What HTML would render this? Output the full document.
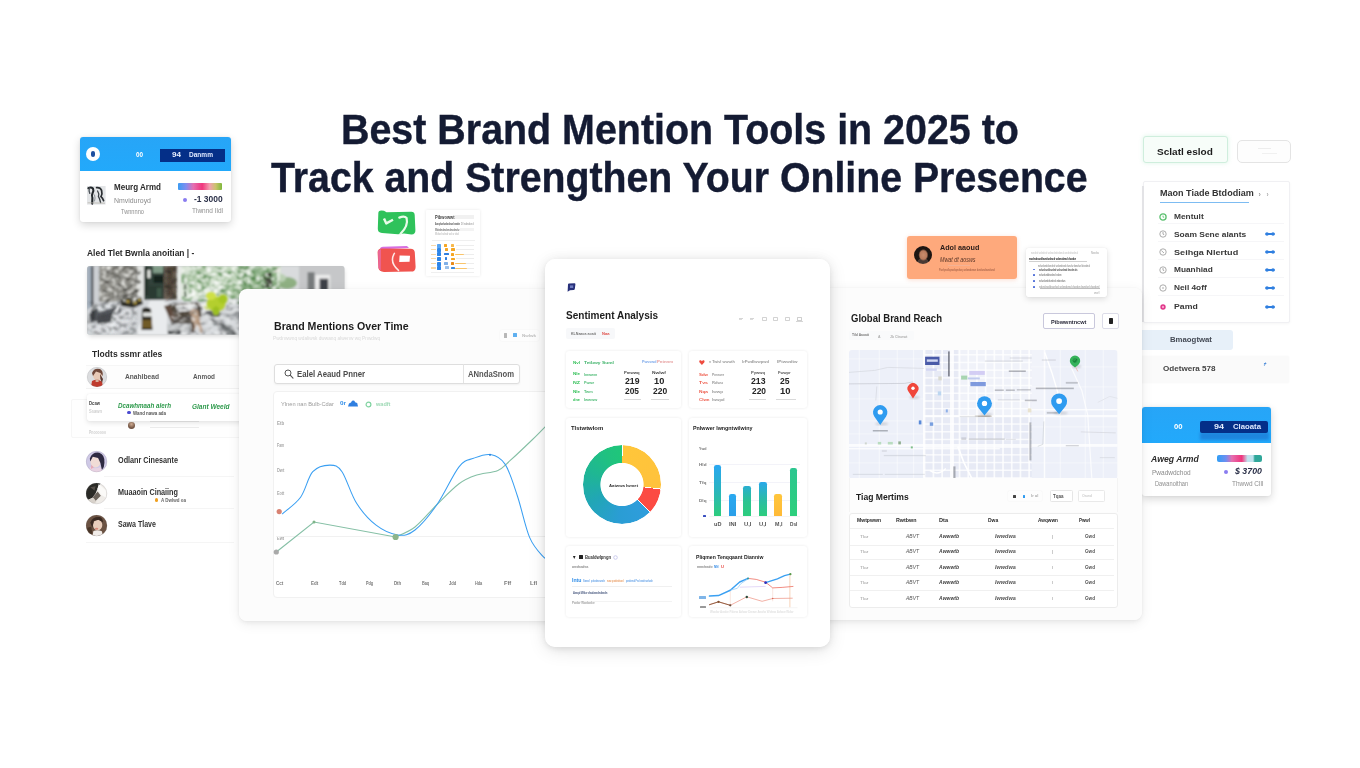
<!DOCTYPE html>
<html lang="en">
<head>
<meta charset="utf-8">
<title>Best Brand Mention Tools in 2025</title>
<style>
*{box-sizing:border-box;margin:0;padding:0}
html,body{width:1360px;height:768px;overflow:hidden;background:#fff}
body{font-family:"Liberation Sans",sans-serif;color:#1a1a1a;position:relative}
.abs{position:absolute}
.t{position:absolute;white-space:nowrap;line-height:1;transform-origin:0 0}
#stage{position:absolute;left:0;top:0;width:1360px;height:768px;overflow:hidden;background:#fff}
.title{position:absolute;white-space:nowrap;font-weight:700;color:#141b33;font-size:42.6px;line-height:1;transform-origin:0 0;-webkit-text-stroke:.4px #141b33}
.panel{position:absolute;background:#fff;border-radius:8px;overflow:hidden}
.pshadow{position:absolute;border-radius:8px}
svg{position:absolute;overflow:visible}
</style>
</head>
<body>
<div id="stage">
<div class="title" style="left:340.6px;top:108.4px;transform:scaleX(.925)">Best Brand Mention Tools in 2025 to</div>
<div class="title" style="left:270.9px;top:155.6px;transform:scaleX(.9215)">Track and Strengthen Your Online Presence</div>
<div class="abs" style="left:79.5px;top:137.0px;width:151.5px;height:85.0px;background:#fff;border-radius:3px;box-shadow:0 3px 8px rgba(0,0,0,.16),0 0 2px rgba(0,0,0,.08);"></div>
<div class="abs" style="left:79.5px;top:137.0px;width:151.5px;height:33.5px;background:linear-gradient(180deg,#27a5f7,#22a9fb);border-radius:3px 3px 0 0;"></div>
<div class="abs" style="left:86.2px;top:146.9px;width:14.0px;height:14.0px;background:#fff;border-radius:7px;"></div>
<div class="abs" style="left:91.3px;top:150.5px;width:3.8px;height:6.8px;background:#1d4fa0;border-radius:2px;"></div>
<div class="t" style="left:135.5px;top:150.0px;font-size:9px;color:#fff;font-weight:700;transform:scaleX(0.637);">oo</div>
<div class="abs" style="left:160.0px;top:149.4px;width:64.5px;height:12.6px;background:#042f88;"></div>
<div class="t" style="left:171.5px;top:150.5px;font-size:8px;color:#e8f0ff;font-weight:700;transform:scaleX(1.011);">94</div>
<div class="t" style="left:188.5px;top:150.8px;font-size:7.5px;color:#dfe9ff;font-weight:700;transform:scaleX(0.873);">Danmm</div>
<svg style="left:86.8px;top:185.8px" width="18.6" height="18.6" viewBox="0 0 18.6 18.6"><defs><filter id="thb"><feGaussianBlur stdDeviation="0.45"/></filter></defs><rect width="18.6" height="18.6" fill="#e3e5e7"/><g filter="url(#thb)" fill="none" stroke-linecap="round"><path d="M1.4 2.2 Q4 .6 6 2.6 Q7 5 5.6 7 Q4.4 9.6 5.4 12 L5.2 17.6" stroke="#23272b" stroke-width="2.1"/><path d="M2.4 2 Q1.6 5 2.8 7.4" stroke="#4a5056" stroke-width="1.3"/><path d="M9.6 1.6 Q13.4 1.2 14.6 4.4 Q15.6 8 14 10.6 Q15.6 12 16.6 14.6" stroke="#2b2f33" stroke-width="1.7"/><path d="M10.6 5 Q12.4 7.6 11.4 10.4 Q13 13 13.6 16.6" stroke="#3a3f44" stroke-width="1.3"/><path d="M7.6 9 Q8.6 12 7.6 15" stroke="#8a8f94" stroke-width="1"/><path d="M1 16.8 L17.6 17.2" stroke="#b9b6ae" stroke-width=".8"/></g></svg>
<div class="t" style="left:114.0px;top:182.9px;font-size:8.6px;color:#2a2a2a;font-weight:700;transform:scaleX(0.934);">Meurg Armd</div>
<div class="t" style="left:114.0px;top:197.0px;font-size:7.4px;color:#8a8a8a;transform:scaleX(0.937);">Nmviduroyd</div>
<div class="t" style="left:121.0px;top:208.6px;font-size:6.4px;color:#8f8f8f;transform:scaleX(0.885);">Twnnnno</div>
<div class="abs" style="left:178.4px;top:183.0px;width:43.2px;height:6.7px;background:linear-gradient(90deg,#3b9cf2 0%,#7f8ef0 18%,#e56fb0 35%,#f0357c 55%,#f2a0b0 72%,#c9c36a 86%,#7fb83c 100%);border-radius:1px;"></div>
<div class="abs" style="left:183.0px;top:198.4px;width:4.0px;height:4.0px;background:#8a7cf0;border-radius:2px;"></div>
<div class="t" style="left:194.0px;top:195.2px;font-size:9.2px;color:#2b3048;font-weight:700;transform:scaleX(0.920);">-1 3000</div>
<div class="t" style="left:191.7px;top:208.4px;font-size:6.4px;color:#8f8f8f;transform:scaleX(1.013);">Tlwnnd Ildl</div>
<div class="t" style="left:87.0px;top:249.0px;font-size:8.6px;color:#2a2a2a;font-weight:700;transform:scaleX(0.982);">Aled Tlet Bwnla anoitian | -</div>
<div class="abs" style="left:88px;top:267px;width:256px;height:67px;border-radius:3px;box-shadow:0 2px 5px rgba(0,0,0,.18)"></div>
<svg style="left:87.4px;top:265.8px" width="257.6" height="68.7" viewBox="0 0 257.6 68.7">
<defs>
<clipPath id="phc"><rect x="0" y="0" width="257.6" height="68.7" rx="3"/></clipPath>
<filter id="phb" x="-5%" y="-5%" width="110%" height="110%"><feGaussianBlur stdDeviation="0.9"/></filter>
<filter id="phb2" x="-5%" y="-5%" width="110%" height="110%"><feGaussianBlur stdDeviation="1.6"/></filter>
<filter id="phn1" x="0" y="0" width="100%" height="100%">
<feTurbulence type="fractalNoise" baseFrequency="0.16 0.22" numOctaves="3" seed="11" result="n"/>
<feColorMatrix in="n" type="matrix" values="0 0 0 0 0  0 0 0 0 0  0 0 0 0 0  3.2 0 0 0 -1.45" result="a"/>
<feComposite in="SourceGraphic" in2="a" operator="in"/>
</filter>
<filter id="phn2" x="0" y="0" width="100%" height="100%">
<feTurbulence type="fractalNoise" baseFrequency="0.2 0.26" numOctaves="3" seed="29" result="n"/>
<feColorMatrix in="n" type="matrix" values="0 0 0 0 0  0 0 0 0 0  0 0 0 0 0  0 3.4 0 0 -1.62" result="a"/>
<feComposite in="SourceGraphic" in2="a" operator="in"/>
</filter>
<filter id="phn3" x="0" y="0" width="100%" height="100%">
<feTurbulence type="fractalNoise" baseFrequency="0.2 0.26" numOctaves="3" seed="53" result="n"/>
<feColorMatrix in="n" type="matrix" values="0 0 0 0 0  0 0 0 0 0  0 0 0 0 0  0 0 3.6 0 -1.6" result="a"/>
<feComposite in="SourceGraphic" in2="a" operator="in"/>
</filter>
</defs>
<g clip-path="url(#phc)">
<rect width="257.6" height="68.7" fill="#c2c5c6"/>
<g filter="url(#phb)">
<!-- left strip -->
<rect x="0" y="0" width="5" height="69" fill="#a3afbc"/>
<rect x="4.4" y="0" width="2.2" height="50" fill="#2c2e30"/>
<rect x="6.4" y="0" width="6.4" height="44" fill="#cdd0d4"/>
<!-- stone wall -->
<rect x="12.4" y="0" width="41" height="36" fill="#8a8983"/>
<!-- white pillar -->
<rect x="50.5" y="0" width="6.5" height="35" fill="#e2e4e2"/>
<!-- doorway -->
<rect x="57" y="0" width="21" height="34" fill="#33423a"/>
<rect x="66" y="0" width="10" height="7" fill="#7f9a86"/>
<rect x="66.5" y="9.6" width="10" height="7.4" fill="#18221e"/>
<rect x="58" y="0" width="3" height="30" fill="#26302a"/>
<rect x="60.4" y="4" width="3" height="8" fill="#e9ebe6"/>
<rect x="62" y="20" width="12" height="12" fill="#2b3a30"/>
<rect x="70" y="22" width="4" height="9" fill="#3f5a48"/>
<!-- column -->
<rect x="77" y="0" width="13" height="36" fill="#6b6054"/>
<rect x="80" y="0" width="6" height="30" fill="#54493e"/>
<rect x="90" y="0" width="5" height="34" fill="#e7eae7"/>
<!-- foliage -->
<rect x="94.7" y="0" width="100" height="38" fill="#d6e2d2"/>
<ellipse cx="112" cy="14" rx="12" ry="12" fill="#a9c4a2"/>
<ellipse cx="140" cy="9" rx="18" ry="8" fill="#bcd2b6"/>
<ellipse cx="150" cy="24" rx="16" ry="9" fill="#9dbd95"/>
<ellipse cx="176" cy="16" rx="18" ry="15" fill="#8fb487"/>
<ellipse cx="122" cy="28" rx="10" ry="6" fill="#e8eee6"/>
<rect x="97" y="18" width="2.4" height="14" fill="#4f5f4c"/>
<!-- trunk / dark right of foliage -->
<rect x="194" y="0" width="19" height="40" fill="#d9dbdd"/>
<rect x="212" y="0" width="46" height="69" fill="#c6c7c9"/>
<ellipse cx="200" cy="17" rx="10" ry="6" fill="#8fb083"/>
<ellipse cx="194" cy="12" rx="5" ry="4" fill="#b9cfb2"/>
<rect x="186.5" y="2" width="6" height="4" fill="#e3d9d6"/>
<path d="M176.5 8 L184.8 5.4 L185.6 22 L175.6 22 Z" fill="#2c2a22"/>
<rect x="220.6" y="6.2" width="7" height="20" fill="#777a7c"/>
<rect x="228.4" y="9" width="14.8" height="16" fill="#ededed"/>
<rect x="232.6" y="12.7" width="8.7" height="12" fill="#3c4046"/>
<!-- floor -->
<path d="M0 69 L0 44 L12 36 L60 34 L180 32 L258 40 L258 69 Z" fill="#d4d7da"/>
<path d="M48 69 L63 34.5 L80 34.5 L80 69 Z" fill="#e9ebed"/>
<!-- left loungers -->
<path d="M2 48 L14 38 L32 36 L34 46 L20 58 L4 60 Z" fill="#565a5e"/>
<path d="M9 40 L30 35.6 L31 40 L12 46 Z" fill="#dfe2e5"/>
<path d="M1 58 L26 50 L44 40 L50 42 L34 69 L1 69 Z" fill="#dfe1e4"/>
<path d="M24 52 L31 38 L33 38 L29 54 L25 66 L22 66 Z" fill="#eef0f2"/>
<path d="M10 50 L26 46 L24 56 L10 58 Z" fill="#484b4f"/>
<rect x="4.4" y="44" width="3.4" height="10" fill="#34363a"/>
<!-- dark chairs cluster -->
<path d="M32 31 L40 29.5 L54 31 L56 38 L46 42 L34 40 Z" fill="#2b2924"/>
<circle cx="41" cy="35.5" r="1.6" fill="#c4a335"/><circle cx="48" cy="37" r="1.8" fill="#b89a2c"/><circle cx="52.5" cy="34" r="1.2" fill="#d6bc4a"/>
<!-- statue figure -->
<path d="M55 43 Q59 40 64 43 L65.5 64 L54.5 64 Z" fill="#2a251d"/>
<rect x="56" y="46.5" width="9" height="4" fill="#e4e6e4"/>
<rect x="55" y="54" width="10" height="8" fill="#6f5a26"/>
<rect x="58.4" y="42" width="4" height="3" fill="#111"/>
<!-- right table/bench -->
<path d="M77 40 L84 38.5 L90 56 L86 60 Z" fill="#5d4a3c"/>
<path d="M82 38 L112 36 L118 50 L90 54 Z" fill="#4a3f36"/>
<path d="M88 39 L108 37.6 L110 43 L92 46 Z" fill="#e6e7e7"/>
<rect x="86" y="52" width="26" height="7" fill="#5a5550"/>
<rect x="80" y="58" width="26" height="9" fill="#c3c6c8"/>
<rect x="81" y="65" width="13" height="3" fill="#2b2d2e"/>
<!-- tan figure -->
<path d="M103 45 Q107 40.5 111 44 L114 58 L116 66.5 L113 67 L110 58 L106.6 67 L104 67 L105 56 Z" fill="#b89a80"/>
<rect x="104.6" y="56" width="2.6" height="11" fill="#4b3a2e"/>
<!-- right sunbeds -->
<path d="M114 44 L150 36 L160 40 L206 46 L206 69 L118 69 Z" fill="#d8dbde"/>
<path d="M118 46 L128 43 L134 50 L124 52 Z" fill="#5c5f62"/>
<path d="M120 50 L146 62 L150 69 L140 69 Z" fill="#6c6f72"/>
<path d="M134 50 L156 44 L180 52 L192 64 L186 66 L160 52 Z" fill="#9fa3a6"/>
<path d="M150 52 L170 60 L174 69 L166 69 Z" fill="#55585b"/>
<path d="M112 39 L124 36 L130 40 L118 44 Z" fill="#f0f1f1"/>
</g>
<!-- textures: wall -->
<g filter="url(#phb)">
<rect x="12.4" y="0" width="41" height="36" fill="#45443f" filter="url(#phn1)"/>
<rect x="12.4" y="0" width="41" height="36" fill="#eeeeea" filter="url(#phn2)"/>
<rect x="77" y="0" width="13" height="36" fill="#2f2a24" filter="url(#phn2)"/>
<!-- foliage -->
<rect x="94.7" y="0" width="98" height="38" fill="#5d8f56" filter="url(#phn1)"/>
<rect x="94.7" y="0" width="98" height="38" fill="#fbfcfa" filter="url(#phn3)"/>
<rect x="150" y="0" width="40" height="38" fill="#4f8349" filter="url(#phn2)" opacity=".8"/>
<!-- floor furniture -->
<rect x="0" y="36" width="50" height="33" fill="#3f4245" filter="url(#phn3)" opacity=".55"/>
<rect x="84" y="36" width="122" height="33" fill="#47494c" filter="url(#phn1)" opacity=".5"/>
<rect x="84" y="36" width="122" height="33" fill="#f4f5f6" filter="url(#phn2)" opacity=".7"/>
</g>
<g filter="url(#phb)">
<!-- plant -->
<ellipse cx="129" cy="38" rx="9.5" ry="7.5" fill="#b4cf2e"/>
<ellipse cx="124" cy="30" rx="5" ry="4" fill="#cfe045"/>
<ellipse cx="136" cy="33" rx="4.6" ry="4.6" fill="#a6c722"/>
<ellipse cx="129" cy="45" rx="3.4" ry="4.6" fill="#9cc020"/>
<path d="M116 40 L124 42 L120 44 Z" fill="#c9d86a"/>
</g>
</g>
</svg>
<div class="t" style="left:92.0px;top:350.4px;font-size:9px;color:#2a2a2a;font-weight:700;transform:scaleX(0.950);">Tlodts ssmr atles</div>
<div class="abs" style="left:86.0px;top:365.0px;width:153.5px;height:24.0px;background:#fdfdfd;border-top:1px solid #f6f6f6;border-bottom:1px solid #f2f2f2;"></div>
<svg style="left:86.5px;top:366.6px" width="20.0" height="20.0" viewBox="-10 -10 20 20"><defs><clipPath id="av96_376"><circle cx="0" cy="0" r="10"/></clipPath><filter id="av96_376b"><feGaussianBlur stdDeviation="0.7"/></filter></defs><g clip-path="url(#av96_376)"><rect x="-10" y="-10" width="20" height="20" fill="#dcdddf"/><g filter="url(#av96_376b)"><ellipse cx="0.5" cy="-2" rx="4.6" ry="5.4" fill="#e8c9b6"/><path d="M-5 -4 Q-3 -9.5 3 -8 Q6.5 -6 5.6 -1 L3.4 -4 L-1 -5.4 L-4 -1 Z" fill="#70483a"/><path d="M-6 10 L-5 4 Q0 1.4 5 4.6 L6 10 Z" fill="#bf3a2e"/><rect x="-1.4" y="2" width="3" height="3" fill="#d9b09c"/><path d="M3 -3 L6 2 L5 6 L3.4 2 Z" fill="#5a3a30"/></g></g><circle cx="0" cy="0" r="9.7" fill="none" stroke="rgba(120,120,130,.25)" stroke-width=".6"/></svg>
<div class="t" style="left:125.0px;top:373.6px;font-size:6.6px;color:#5a5a5a;font-weight:700;transform:scaleX(1.008);">Anahlbead</div>
<div class="t" style="left:193.0px;top:373.6px;font-size:6.6px;color:#5a5a5a;font-weight:700;transform:scaleX(0.968);">Anmod</div>
<div class="abs" style="left:71.0px;top:398.8px;width:174.0px;height:38.8px;background:#fefefe;border-radius:2px;border:1px solid #f6f6f6;"></div>
<div class="t" style="left:89.0px;top:429.9px;font-size:5.5px;color:#cfcfcf;font-weight:700;transform:scaleX(0.625);">Pnoooooo</div>
<div class="abs" style="left:127.9px;top:422.0px;width:6.8px;height:6.8px;background:radial-gradient(circle at 50% 30%,#d8b49a 0,#7a5a48 60%,#5a4438 100%);border-radius:3.4px;"></div>
<div class="abs" style="left:150.0px;top:421.1px;width:49.0px;height:1.0px;background:#e9e9e9;"></div>
<div class="abs" style="left:150.0px;top:426.5px;width:49.0px;height:1.0px;background:#ebebeb;"></div>
<div class="abs" style="left:86.6px;top:394.4px;width:158.4px;height:26.6px;background:#fff;border-radius:2px;box-shadow:0 2px 5px rgba(0,0,0,.10),0 0 1px rgba(0,0,0,.10);"></div>
<div class="t" style="left:89.0px;top:401.1px;font-size:5.6px;color:#444;font-weight:700;transform:scaleX(0.752);">Dcaw</div>
<div class="t" style="left:89.0px;top:409.3px;font-size:5.2px;color:#cfcfcf;font-weight:700;transform:scaleX(0.789);">Ssawn</div>
<div class="t" style="left:118.0px;top:402.4px;font-size:7.2px;color:#2e9a4c;font-weight:700;font-style:italic;transform:scaleX(0.866);">Dcawhmaah alerh</div>
<div class="t" style="left:192.0px;top:402.9px;font-size:7.2px;color:#2e9a4c;font-weight:700;font-style:italic;transform:scaleX(0.904);">Glant Weeld</div>
<div class="abs" style="left:127.0px;top:410.6px;width:3.6px;height:3.6px;background:#4a4ad0;border-radius:1.8px;"></div>
<div class="t" style="left:133.0px;top:410.7px;font-size:5px;color:#555;font-weight:700;transform:scaleX(0.884);">Wand nawa ada</div>
<svg style="left:86.4px;top:450.6px" width="21.2" height="21.2" viewBox="-10 -10 20 20"><defs><clipPath id="av97_461"><circle cx="0" cy="0" r="10"/></clipPath><filter id="av97_461b"><feGaussianBlur stdDeviation="0.7"/></filter></defs><g clip-path="url(#av97_461)"><rect x="-10" y="-10" width="20" height="20" fill="#cfc9e6"/><g filter="url(#av97_461b)"><ellipse cx="-1" cy="0" rx="4.8" ry="5.6" fill="#f1dcd6"/><path d="M-6.4 -3 Q-4 -9.4 2.6 -8.4 Q8 -6.4 7.4 1 Q7.4 5.6 5 8 L3.6 1.4 L1.4 -3.4 L-3.6 -4.6 L-6 0 Z" fill="#2f2a42"/><path d="M-8 10 L-6 5 Q-1 7.4 3.4 5 L6 10 Z" fill="#e9d3e3"/><path d="M-5 3 L-2.6 5.6 L-5.4 7 Z" fill="#e9a9b6"/></g></g><circle cx="0" cy="0" r="9.7" fill="none" stroke="rgba(120,120,130,.25)" stroke-width=".6"/></svg>
<div class="t" style="left:118.0px;top:455.9px;font-size:8.6px;color:#333;font-weight:700;transform:scaleX(0.843);">Odlanr Cinesante</div>
<svg style="left:86.4px;top:482.7px" width="21.2" height="21.2" viewBox="-10 -10 20 20"><defs><clipPath id="av97_493"><circle cx="0" cy="0" r="10"/></clipPath><filter id="av97_493b"><feGaussianBlur stdDeviation="0.7"/></filter></defs><g clip-path="url(#av97_493)"><rect x="-10" y="-10" width="20" height="20" fill="#efece8"/><g filter="url(#av97_493b)"><path d="M-10 -10 L4 -10 L1 -5 L-1 0 L-4 4 L-10 7 Z" fill="#2b2927"/><path d="M-4 4 L1 -2 L4 2 L-1 7 Z" fill="#6a625a"/><path d="M2 -9 L9 -3 L9 4 L4 1 L1 -5 Z" fill="#fbfaf8"/><path d="M-9 6 L-3 4 L0 8 L-4 10 Z" fill="#d8d2cb"/><path d="M-6 -6 L-1 -7 L-2 -3 Z" fill="#55504a"/></g></g><circle cx="0" cy="0" r="9.7" fill="none" stroke="rgba(120,120,130,.25)" stroke-width=".6"/></svg>
<div class="t" style="left:118.0px;top:488.0px;font-size:8.6px;color:#333;font-weight:700;transform:scaleX(0.843);">Muaaoin Cinaiing</div>
<svg style="left:86.4px;top:514.9px" width="21.2" height="21.2" viewBox="-10 -10 20 20"><defs><clipPath id="av97_525"><circle cx="0" cy="0" r="10"/></clipPath><filter id="av97_525b"><feGaussianBlur stdDeviation="0.7"/></filter></defs><g clip-path="url(#av97_525)"><rect x="-10" y="-10" width="20" height="20" fill="#6b5242"/><g filter="url(#av97_525b)"><ellipse cx="1" cy="-0.6" rx="4.4" ry="5" fill="#e9cdbb"/><path d="M-6 -3 Q-3 -9 3 -8 Q6 -7 6 -3 L2 -5.6 L-2.6 -4.4 L-4 2 Z" fill="#3a2a22"/><path d="M-4 10 L-3 5 Q1 3.4 5 5.4 L6 10 Z" fill="#f1ece8"/><path d="M-9 2 L-5 1 L-4 8 L-8 8 Z" fill="#4a3528"/><ellipse cx="0" cy="3" rx="1.6" ry="1" fill="#d98a7a"/></g></g><circle cx="0" cy="0" r="9.7" fill="none" stroke="rgba(120,120,130,.25)" stroke-width=".6"/></svg>
<div class="t" style="left:118.0px;top:520.2px;font-size:8.6px;color:#333;font-weight:700;transform:scaleX(0.819);">Sawa Tlave</div>
<div class="abs" style="left:154.7px;top:498.4px;width:3.6px;height:3.6px;background:#f0a020;border-radius:1.8px;"></div>
<div class="t" style="left:161.0px;top:498.7px;font-size:4.6px;color:#666;font-weight:700;transform:scaleX(0.975);">A Dwlwd oa</div>
<div class="abs" style="left:104.0px;top:475.8px;width:130.0px;height:1.0px;background:#f5f5f5;"></div>
<div class="abs" style="left:104.0px;top:507.5px;width:130.0px;height:1.0px;background:#f5f5f5;"></div>
<div class="abs" style="left:86.0px;top:541.5px;width:148.0px;height:1.0px;background:#f5f5f5;"></div>
<div class="abs" style="left:1142.7px;top:136.3px;width:85.0px;height:27.1px;background:#f7fdf9;border-radius:3px;border:1px solid #cfeedd;box-shadow:0 0 4px rgba(120,220,160,.25);"></div>
<div class="t" style="left:1157.2px;top:146.5px;font-size:9.8px;color:#1c1c1c;font-weight:700;transform:scaleX(1.024);">Sclatl eslod</div>
<div class="abs" style="left:1236.5px;top:139.8px;width:54.5px;height:22.8px;background:#fdfdfd;border-radius:5px;border:1px solid #e4e4e4;"></div>
<div class="abs" style="left:1258.0px;top:148.2px;width:13.0px;height:1.2px;background:#ededed;"></div>
<div class="abs" style="left:1262.0px;top:153.4px;width:15.0px;height:1.0px;background:#f0f0f0;"></div>
<div class="abs" style="left:1143.0px;top:181.0px;width:147.0px;height:141.6px;background:#fff;border-radius:2px;border:1px solid #f0f0f3;box-shadow:0 1px 3px rgba(0,0,0,.04);"></div>
<div class="abs" style="left:1142.4px;top:186.0px;width:1.2px;height:136.0px;background:#e3e3e6;"></div>
<div class="t" style="left:1160.4px;top:190.3px;font-size:8.2px;color:#333;font-weight:700;transform:scaleX(1.104);">Maon Tiade Btdodiam</div>
<div class="t" style="left:1258.5px;top:191.4px;font-size:7px;color:#999;font-weight:700;">›</div>
<div class="t" style="left:1266.5px;top:192.0px;font-size:6.4px;color:#aaa;font-weight:700;">›</div>
<div class="abs" style="left:1160.0px;top:202.0px;width:89.0px;height:1.1px;background:#7dbcf2;"></div>
<svg style="left:1159.4px;top:212.9px" width="8" height="8" viewBox="0 0 8 8"><circle cx="4" cy="4" r="3.1" fill="none" stroke="#5cc070" stroke-width="1.3"/><path d="M4 2.6 V4.2 H5.2" stroke="#5cc070" stroke-width=".8" fill="none"/></svg>
<div class="t" style="left:1174.3px;top:213.4px;font-size:8px;color:#383838;font-weight:700;transform:scaleX(1.044);">Mentult</div>
<svg style="left:1159.4px;top:230.1px" width="8" height="8" viewBox="0 0 8 8"><circle cx="4" cy="4" r="3.2" fill="none" stroke="#8a8a8a" stroke-width=".7"/><path d="M4 2 V4.2 L5.2 4.6" stroke="#8a8a8a" stroke-width=".7" fill="none"/></svg>
<div class="t" style="left:1174.3px;top:230.6px;font-size:8px;color:#383838;font-weight:700;transform:scaleX(1.054);">Soam Sene alants</div>
<svg style="left:1264px;top:231.1px" width="12" height="6" viewBox="0 0 12 6"><rect x="1.4" y="2" width="9.4" height="2" rx="1" fill="#2f7fe0"/><circle cx="3" cy="3" r="1.75" fill="#2f7fe0"/><circle cx="9" cy="3" r="1.75" fill="#2f7fe0"/></svg>
<svg style="left:1159.4px;top:248.0px" width="8" height="8" viewBox="0 0 8 8"><circle cx="4" cy="4" r="3.2" fill="none" stroke="#8a8a8a" stroke-width=".7"/><path d="M2.4 2.6 L5 5" stroke="#8a8a8a" stroke-width=".7"/></svg>
<div class="t" style="left:1174.3px;top:248.5px;font-size:8px;color:#383838;font-weight:700;transform:scaleX(1.137);">Seihga Nlertud</div>
<svg style="left:1264px;top:249.0px" width="12" height="6" viewBox="0 0 12 6"><rect x="1.4" y="2" width="9.4" height="2" rx="1" fill="#2f7fe0"/><circle cx="3" cy="3" r="1.75" fill="#2f7fe0"/><circle cx="9" cy="3" r="1.75" fill="#2f7fe0"/></svg>
<svg style="left:1159.4px;top:265.5px" width="8" height="8" viewBox="0 0 8 8"><circle cx="4" cy="4" r="3.2" fill="none" stroke="#8a8a8a" stroke-width=".7"/><path d="M4 2 V4.2 L5.2 4.6" stroke="#8a8a8a" stroke-width=".7" fill="none"/></svg>
<div class="t" style="left:1174.3px;top:266.0px;font-size:8px;color:#383838;font-weight:700;transform:scaleX(1.037);">Muanhiad</div>
<svg style="left:1264px;top:266.5px" width="12" height="6" viewBox="0 0 12 6"><rect x="1.4" y="2" width="9.4" height="2" rx="1" fill="#2f7fe0"/><circle cx="3" cy="3" r="1.75" fill="#2f7fe0"/><circle cx="9" cy="3" r="1.75" fill="#2f7fe0"/></svg>
<svg style="left:1159.4px;top:283.8px" width="8" height="8" viewBox="0 0 8 8"><circle cx="4" cy="4" r="3.2" fill="none" stroke="#8a8a8a" stroke-width=".7"/><circle cx="4" cy="4" r=".7" fill="#8a8a8a"/></svg>
<div class="t" style="left:1174.3px;top:284.3px;font-size:8px;color:#383838;font-weight:700;transform:scaleX(1.036);">Neil 4off</div>
<svg style="left:1264px;top:284.8px" width="12" height="6" viewBox="0 0 12 6"><rect x="1.4" y="2" width="9.4" height="2" rx="1" fill="#2f7fe0"/><circle cx="3" cy="3" r="1.75" fill="#2f7fe0"/><circle cx="9" cy="3" r="1.75" fill="#2f7fe0"/></svg>
<svg style="left:1159.4px;top:302.6px" width="8" height="8" viewBox="0 0 8 8"><circle cx="4" cy="4" r="2.7" fill="#e0358a"/><circle cx="4" cy="4" r="1.2" fill="#f7a0c8"/></svg>
<div class="t" style="left:1174.3px;top:303.1px;font-size:8px;color:#383838;font-weight:700;transform:scaleX(1.088);">Pamd</div>
<svg style="left:1264px;top:303.6px" width="12" height="6" viewBox="0 0 12 6"><rect x="1.4" y="2" width="9.4" height="2" rx="1" fill="#2f7fe0"/><circle cx="3" cy="3" r="1.75" fill="#2f7fe0"/><circle cx="9" cy="3" r="1.75" fill="#2f7fe0"/></svg>
<div class="abs" style="left:1158.0px;top:222.7px;width:126.0px;height:0.9px;background:#f6f6f8;"></div>
<div class="abs" style="left:1158.0px;top:241.0px;width:126.0px;height:0.9px;background:#f6f6f8;"></div>
<div class="abs" style="left:1158.0px;top:258.9px;width:126.0px;height:0.9px;background:#f6f6f8;"></div>
<div class="abs" style="left:1158.0px;top:277.1px;width:126.0px;height:0.9px;background:#f6f6f8;"></div>
<div class="abs" style="left:1158.0px;top:295.4px;width:126.0px;height:0.9px;background:#f6f6f8;"></div>
<div class="abs" style="left:1138.0px;top:329.6px;width:94.5px;height:20.4px;background:#e7f0f9;border-radius:3px;"></div>
<div class="t" style="left:1170.0px;top:336.2px;font-size:7.4px;color:#444a55;font-weight:700;transform:scaleX(1.053);">Bmaogtwat</div>
<div class="abs" style="left:1138.0px;top:356.0px;width:150.5px;height:26.8px;background:#fafafa;border-radius:2px;box-shadow:0 0 2px rgba(0,0,0,.04);"></div>
<div class="t" style="left:1163.4px;top:364.8px;font-size:8px;color:#444;font-weight:700;transform:scaleX(1.011);">Odetwera 578</div>
<div class="t" style="left:1262.5px;top:363.1px;font-size:4.6px;color:#4a8ad8;font-weight:700;">↱</div>
<div class="abs" style="left:1142.0px;top:407.2px;width:129.0px;height:89.0px;background:#fff;border-radius:3px;box-shadow:0 3px 8px rgba(0,0,0,.16),0 0 2px rgba(0,0,0,.08);"></div>
<div class="abs" style="left:1142.0px;top:407.2px;width:129.0px;height:35.4px;background:linear-gradient(180deg,#27a5f7,#22a9fb);border-radius:3px 3px 0 0;"></div>
<div class="t" style="left:1174.0px;top:421.4px;font-size:9.5px;color:#fff;font-weight:700;transform:scaleX(0.732);">oo</div>
<div class="abs" style="left:1200.0px;top:432.2px;width:69.0px;height:8.0px;background:rgba(20,70,170,.35);filter:blur(1.5px);"></div>
<div class="abs" style="left:1200.0px;top:421.0px;width:68.0px;height:12.0px;background:#042f88;border-radius:2px;"></div>
<div class="t" style="left:1214.0px;top:423.0px;font-size:8px;color:#e8f0ff;font-weight:700;transform:scaleX(1.124);">94</div>
<div class="t" style="left:1232.5px;top:423.3px;font-size:7.5px;color:#dfe9ff;font-weight:700;transform:scaleX(1.033);">Claoata</div>
<div class="t" style="left:1151.3px;top:454.9px;font-size:8.6px;color:#2a2a2a;font-weight:700;font-style:italic;transform:scaleX(1.008);">Aweg Armd</div>
<div class="t" style="left:1151.7px;top:469.0px;font-size:7.4px;color:#8a8a8a;transform:scaleX(0.881);">Pwadwdchod</div>
<div class="t" style="left:1155.3px;top:480.9px;font-size:6.4px;color:#8f8f8f;transform:scaleX(0.889);">Dawanoithan</div>
<div class="abs" style="left:1216.5px;top:454.8px;width:45.0px;height:6.9px;background:linear-gradient(90deg,#2f9ff5 0%,#6f8ef0 20%,#e56fb0 33%,#f0357c 55%,#bfe3ee 68%,#bfe3ee 80%,#2fa79a 84%,#2fa79a 100%);border-radius:2px;"></div>
<div class="abs" style="left:1223.8px;top:470.2px;width:4.0px;height:4.0px;background:#8a7cf0;border-radius:2px;"></div>
<div class="t" style="left:1235.0px;top:467.4px;font-size:9.2px;color:#2b3048;font-weight:700;font-style:italic;transform:scaleX(0.959);">$ 3700</div>
<div class="t" style="left:1231.7px;top:480.6px;font-size:6.4px;color:#8f8f8f;transform:scaleX(1.012);">Thwwd Clll</div>
<div class="abs" style="left:906.8px;top:236.3px;width:110.7px;height:43.2px;background:#fea97c;border-radius:3px;box-shadow:0 1px 4px rgba(240,120,70,.25);"></div>
<div class="abs" style="left:913.5px;top:245.5px;width:18.0px;height:18.0px;background:radial-gradient(ellipse 5px 6px at 52% 50%,#c98c6c 0,#b87a5c 70%,transparent 100%),radial-gradient(circle at 50% 100%,#4a3a34 0,#4a3a34 30%,transparent 32%),#1d1512;border-radius:9px;"></div>
<div class="t" style="left:939.5px;top:243.5px;font-size:8px;color:#2a1c18;font-weight:700;transform:scaleX(0.902);">Adol aaoud</div>
<div class="t" style="left:939.5px;top:255.9px;font-size:7px;color:#5a3628;font-style:italic;transform:scaleX(0.767);">Mwat dt aosws</div>
<div class="abs" style="left:948.0px;top:265.1px;width:22.0px;height:0.8px;background:#f3b295;"></div>
<div class="t" style="left:939.0px;top:268.8px;font-size:3.8px;color:#b06a4e;font-weight:700;transform:scaleX(0.613);">Pwdywdlqawdqwdwq wdawdwaw dwdwadawdwad</div>
<svg style="left:376px;top:208px" width="42" height="66" viewBox="376 208 42 66"><path d="M378.3 214 Q378 210.6 381.5 210.6 L384 210.8 L386.5 212.2 L411 211.8 Q414.4 211.6 414.7 215 L415.4 230 Q415.6 234.4 411.5 234.5 L404 233.4 L398 234.2 L382 233 Q377.6 232.6 377.8 228.5 Z" fill="#2fc25b"/><path d="M384 218.5 L386.3 223.4 L393 219.8" stroke="#e9fbe9" stroke-width="2.4" fill="none" stroke-linejoin="round"/><path d="M399.3 217.6 Q404.5 215.6 406.6 218 Q408.6 226 400.5 233.8" stroke="#e9fbe9" stroke-width="2.2" fill="none" stroke-linecap="round"/><path d="M380 249.5 Q380 247 383 246.8 L407 246 L409 248 Z" fill="#d66fe0"/><path d="M377.6 252 Q378 248.4 381.5 248.4 L410.5 248.8 Q414.6 249 414.8 252.5 L415.6 266.5 Q415.8 271.5 411 271.6 L384 272 Q379 271.6 378.4 268 Z" fill="#f0544f"/><path d="M378 250.5 L381 249 L380.8 270.4 L378.4 268 Z" fill="#e86aa8" opacity=".8"/><path d="M394.4 253.4 Q389 262 398.5 270.4" stroke="#fde9e6" stroke-width="1.5" fill="none" stroke-linecap="round"/><path d="M399.6 255.4 L410 255.8 L409.6 261.8 L399.2 262 Z" fill="#fff"/></svg>
<div class="abs" style="left:426.4px;top:210.3px;width:53.8px;height:65.9px;background:#fff;border-radius:1px;box-shadow:0 0 3px rgba(0,0,0,.10);"></div>
<div class="t" style="left:435.0px;top:215.3px;font-size:5px;color:#444;font-weight:700;transform:scaleX(0.807);">Pibwowwt</div>
<div class="abs" style="left:455.0px;top:215.2px;width:19.0px;height:3.6px;background:#f1f1f1;"></div>
<div class="t" style="left:435.0px;top:223.4px;font-size:3.4px;color:#555;font-weight:700;transform:scaleX(0.622);">Awqdwdwdwdawd wadw</div>
<div class="t" style="left:460.5px;top:223.4px;font-size:3.4px;color:#aaa;font-weight:700;transform:scaleX(0.668);">Dl wdwdw d</div>
<div class="t" style="left:435.0px;top:228.8px;font-size:3.4px;color:#777;font-weight:700;transform:scaleX(0.612);">Wdwdwdwdawdwadwdw</div>
<div class="abs" style="left:460.0px;top:228.0px;width:14.0px;height:3.4px;background:#f3f3f3;"></div>
<div class="t" style="left:435.0px;top:232.9px;font-size:3.2px;color:#c5c5c5;font-weight:700;transform:scaleX(0.711);">Wdwd adwd wd w dad</div>
<div class="abs" style="left:432.0px;top:240.1px;width:43.0px;height:0.7px;background:#efefef;"></div>
<div class="abs" style="left:431.0px;top:244.8px;width:5.0px;height:1.2px;background:#f9d9a8;border-radius:0.3px;"></div>
<div class="abs" style="left:436.8px;top:243.6px;width:3.8px;height:4.0px;background:#5aa5f0;border-radius:0.4px;"></div>
<div class="abs" style="left:444.0px;top:243.8px;width:3.4px;height:2.8px;background:#f5a623;border-radius:0.5px;"></div>
<div class="abs" style="left:450.6px;top:244.2px;width:3.4px;height:2.6px;background:#f7b84a;border-radius:0.6px;"></div>
<div class="abs" style="left:455.5px;top:244.9px;width:18.5px;height:1.0px;background:#ededed;"></div>
<div class="abs" style="left:431.0px;top:249.0px;width:5.0px;height:1.2px;background:#f9d9a8;border-radius:0.3px;"></div>
<div class="abs" style="left:436.8px;top:247.8px;width:3.8px;height:4.0px;background:#2f86e8;border-radius:0.4px;"></div>
<div class="abs" style="left:444.8px;top:248.0px;width:3.2px;height:2.8px;background:#f5a623;border-radius:0.5px;"></div>
<div class="abs" style="left:450.6px;top:248.4px;width:4.4px;height:2.6px;background:#f5a623;border-radius:0.6px;"></div>
<div class="abs" style="left:455.5px;top:249.1px;width:18.5px;height:1.0px;background:#ededed;"></div>
<div class="abs" style="left:431.0px;top:253.6px;width:5.0px;height:1.2px;background:#f9d9a8;border-radius:0.3px;"></div>
<div class="abs" style="left:436.8px;top:252.4px;width:3.8px;height:4.0px;background:#2f86e8;border-radius:0.4px;"></div>
<div class="abs" style="left:444.0px;top:252.6px;width:4.6px;height:2.8px;background:#2f7fe0;border-radius:0.5px;"></div>
<div class="abs" style="left:450.6px;top:253.0px;width:3.4px;height:2.6px;background:#f5a623;border-radius:0.6px;"></div>
<div class="abs" style="left:455.5px;top:253.7px;width:18.5px;height:1.0px;background:#ededed;"></div>
<div class="abs" style="left:455.0px;top:254.0px;width:9.0px;height:1.1px;background:#f9c46a;border-radius:0.4px;"></div>
<div class="abs" style="left:431.0px;top:258.2px;width:5.0px;height:1.2px;background:#f9d9a8;border-radius:0.3px;"></div>
<div class="abs" style="left:436.8px;top:257.0px;width:3.8px;height:4.0px;background:#2f86e8;border-radius:0.4px;"></div>
<div class="abs" style="left:444.8px;top:257.2px;width:2.6px;height:2.8px;background:#2f7fe0;border-radius:0.5px;"></div>
<div class="abs" style="left:450.6px;top:257.6px;width:4.4px;height:2.6px;background:#f5a623;border-radius:0.6px;"></div>
<div class="abs" style="left:455.5px;top:258.3px;width:18.5px;height:1.0px;background:#ededed;"></div>
<div class="abs" style="left:431.0px;top:263.0px;width:5.0px;height:1.2px;background:#f9d9a8;border-radius:0.3px;"></div>
<div class="abs" style="left:436.8px;top:261.8px;width:3.8px;height:4.0px;background:#2f86e8;border-radius:0.4px;"></div>
<div class="abs" style="left:444.0px;top:262.0px;width:4.0px;height:2.8px;background:#7fb0e8;border-radius:0.5px;"></div>
<div class="abs" style="left:450.6px;top:262.4px;width:3.4px;height:2.6px;background:#e88a1a;border-radius:0.6px;"></div>
<div class="abs" style="left:455.5px;top:263.1px;width:18.5px;height:1.0px;background:#ededed;"></div>
<div class="abs" style="left:455.0px;top:263.4px;width:11.0px;height:1.1px;background:#f9c46a;border-radius:0.4px;"></div>
<div class="abs" style="left:431.0px;top:267.4px;width:5.0px;height:1.2px;background:#f9d9a8;border-radius:0.3px;"></div>
<div class="abs" style="left:436.8px;top:266.2px;width:3.8px;height:4.0px;background:#2f86e8;border-radius:0.4px;"></div>
<div class="abs" style="left:444.8px;top:266.4px;width:3.8px;height:2.8px;background:#9ac0ea;border-radius:0.5px;"></div>
<div class="abs" style="left:450.6px;top:266.8px;width:4.4px;height:2.6px;background:#3a8ae0;border-radius:0.6px;"></div>
<div class="abs" style="left:455.5px;top:267.5px;width:18.5px;height:1.0px;background:#ededed;"></div>
<div class="abs" style="left:455.0px;top:267.8px;width:12.0px;height:1.1px;background:#f9c46a;border-radius:0.4px;"></div>
<div class="abs" style="left:431.0px;top:271.7px;width:43.0px;height:0.6px;background:#efefef;"></div>
<div class="pshadow" style="left:239px;top:288.5px;width:320px;height:332.2px;box-shadow:0 2px 4px rgba(0,0,0,.05),0 3px 13px rgba(0,0,0,.07),0 0 2px rgba(0,0,0,.04)"></div>
<div class="panel" style="left:239px;top:288.5px;width:320px;height:332.2px;background:#fcfcfc"><div class="abs" style="left:-239px;top:-288.5px;width:1360px;height:768px">
<div class="t" style="left:273.8px;top:320.2px;font-size:11.6px;color:#1c1c1c;font-weight:700;transform:scaleX(0.914);">Brand Mentions Over Time</div>
<div class="t" style="left:273.0px;top:335.9px;font-size:5px;color:#d9d9d9;transform:scaleX(0.951);filter:blur(0.5px);">Pwdnwwnq wdaliwsk dwwanq alwenw wq Pnwdwq</div>
<div class="abs" style="left:499.5px;top:329.5px;width:39.5px;height:11.5px;background:#fdfdfd;border-radius:2px;box-shadow:0 0 2px rgba(0,0,0,.05);"></div>
<div class="abs" style="left:504.0px;top:332.5px;width:2.5px;height:5.0px;background:#b8b8b8;border-radius:0.5px;"></div>
<div class="abs" style="left:512.5px;top:333.0px;width:4.0px;height:4.3px;background:#5fb0f0;border-radius:0.5px;"></div>
<div class="t" style="left:522.0px;top:333.7px;font-size:4.4px;color:#bdbdbd;font-weight:700;transform:scaleX(1.023);">Nwlwk</div>
<div class="abs" style="left:273.8px;top:363.5px;width:246.7px;height:20.3px;background:#fff;border-radius:3px;border:1px solid #dedede;box-shadow:0 1px 2px rgba(0,0,0,.05);"></div>
<div class="abs" style="left:463.0px;top:364.0px;width:1.0px;height:19.3px;background:#e3e3e3;"></div>
<svg style="left:283.5px;top:369px" width="10" height="10" viewBox="0 0 10 10"><circle cx="4" cy="4" r="3" fill="none" stroke="#555" stroke-width="1"/><path d="M6.2 6.2 L9 9.2" stroke="#555" stroke-width="1.1" stroke-linecap="round"/></svg>
<div class="t" style="left:297.0px;top:370.4px;font-size:8.3px;color:#4a4a4a;font-weight:700;transform:scaleX(0.937);">Ealel Aeaud Pnner</div>
<div class="t" style="left:467.5px;top:370.4px;font-size:8.3px;color:#555;font-weight:700;transform:scaleX(0.924);">ANndaSnom</div>
<div class="abs" style="left:272.8px;top:390.8px;width:302.2px;height:207.7px;background:#fff;border-radius:4px;border:1px solid #f1f1f1;"></div>
<div class="t" style="left:281.0px;top:401.7px;font-size:5.4px;color:#9a9a9a;transform:scaleX(1.056);">Ylnen nan  Bulb-Cdar</div>
<div class="t" style="left:339.5px;top:401.4px;font-size:5.6px;color:#2f8de8;font-weight:700;transform:scaleX(1.133);">0r</div>
<svg style="left:348px;top:400.2px" width="11" height="7" viewBox="0 0 11 7"><path d="M0 6.5 L1 3.5 L3 2.6 L4 0.8 L6 0.5 L7.5 2.6 L9.2 3 L10 6.5 Z" fill="#2f7fe0"/></svg>
<svg style="left:364.5px;top:400.6px" width="7" height="7" viewBox="0 0 7 7"><circle cx="3.5" cy="3.5" r="2.4" fill="none" stroke="#7fd3a0" stroke-width="1.2"/></svg>
<div class="t" style="left:375.5px;top:401.6px;font-size:5.2px;color:#9ed9b5;font-weight:700;transform:scaleX(1.068);">wadft</div>
<div class="t" style="left:277.3px;top:421.5px;font-size:4.6px;color:#a8a8a8;font-weight:700;transform:scaleX(0.972);">Etb</div>
<div class="t" style="left:277.3px;top:443.9px;font-size:4.6px;color:#a8a8a8;font-weight:700;transform:scaleX(0.761);">Fam</div>
<div class="t" style="left:277.3px;top:468.7px;font-size:4.6px;color:#a8a8a8;font-weight:700;transform:scaleX(0.854);">Dwt</div>
<div class="t" style="left:277.3px;top:492.3px;font-size:4.6px;color:#a8a8a8;font-weight:700;transform:scaleX(0.805);">Eott</div>
<div class="t" style="left:277.3px;top:536.9px;font-size:4.6px;color:#a8a8a8;font-weight:700;transform:scaleX(0.880);">Ewt</div>
<div class="abs" style="left:276.0px;top:535.5px;width:299.0px;height:1.0px;background:#f1f1f1;"></div>
<div class="t" style="left:276.4px;top:581.5px;font-size:4.8px;color:#777;font-weight:700;transform:scaleX(0.931);">Cct</div>
<div class="t" style="left:311.2px;top:581.5px;font-size:4.8px;color:#777;font-weight:700;transform:scaleX(0.931);">Edt</div>
<div class="t" style="left:339.2px;top:581.5px;font-size:4.8px;color:#777;font-weight:700;transform:scaleX(0.819);">Tdd</div>
<div class="t" style="left:365.7px;top:581.5px;font-size:4.8px;color:#777;font-weight:700;transform:scaleX(0.794);">Pdg</div>
<div class="t" style="left:394.4px;top:581.5px;font-size:4.8px;color:#777;font-weight:700;transform:scaleX(0.900);">Dth</div>
<div class="t" style="left:422.0px;top:581.5px;font-size:4.8px;color:#777;font-weight:700;transform:scaleX(0.794);">Baq</div>
<div class="t" style="left:449.4px;top:581.5px;font-size:4.8px;color:#777;font-weight:700;transform:scaleX(0.844);">Jdd</div>
<div class="t" style="left:475.4px;top:581.5px;font-size:4.8px;color:#777;font-weight:700;transform:scaleX(0.794);">Hda</div>
<div class="t" style="left:504.0px;top:581.5px;font-size:4.8px;color:#777;font-weight:700;transform:scaleX(1.175);">Fff</div>
<div class="t" style="left:529.6px;top:581.5px;font-size:4.8px;color:#777;font-weight:700;transform:scaleX(1.228);">Lfl</div>
<svg style="left:0;top:0" width="1360" height="768" viewBox="0 0 1360 768"><path d="M276.3 552 L314 522 L395.6 537" fill="none" stroke="#86c0a6" stroke-width="1.1"/><path d="M395.6 537.0 C398.8 535.3 408.1 532.4 415.0 527.0 C421.9 521.6 429.7 511.7 437.0 504.5 C444.3 497.3 452.5 488.7 459.0 483.8 C465.5 478.9 469.5 477.5 476.0 475.3 C482.5 473.1 492.2 472.8 497.9 470.4 C503.6 468.0 504.3 465.8 510.0 460.7 C515.7 455.6 526.4 445.4 532.0 440.0 C537.6 434.6 539.6 432.4 543.4 428.6 C547.2 424.8 553.1 418.9 555.0 417.0" fill="none" stroke="#86c0a6" stroke-width="1.1"/><path d="M282.4 513.8 C285.4 511.0 295.5 504.2 300.6 497.2 C305.7 490.2 307.9 477.0 312.8 471.7 C317.7 466.4 325.0 465.1 329.9 465.1 C334.8 465.1 337.6 465.3 342.0 471.7 C346.4 478.1 350.9 494.4 356.6 503.3 C362.3 512.2 369.2 519.9 376.1 525.2 C383.0 530.5 391.5 534.2 398.0 535.0 C404.5 535.8 408.5 535.1 415.0 530.0 C421.5 524.9 429.7 515.0 437.0 504.5 C444.3 494.0 452.9 474.5 459.0 466.8 C465.1 459.1 468.2 460.3 473.5 458.3 C478.8 456.3 485.3 453.6 490.6 454.6 C495.9 455.6 500.7 457.5 505.2 464.4 C509.7 471.3 513.3 483.8 517.4 496.0 C521.5 508.2 525.3 527.2 529.6 537.4 C533.9 547.5 539.7 552.8 543.4 556.9 C547.1 561.0 550.6 561.1 552.0 562.0" fill="none" stroke="#3a9ff2" stroke-width="1.05" stroke-linecap="round"/><circle cx="279.2" cy="511.6" r="2.6" fill="#d88272"/><circle cx="276.3" cy="552" r="2.6" fill="#a9a9a9"/><circle cx="395.6" cy="537" r="3.1" fill="#8db58a"/><circle cx="314" cy="522" r="1.5" fill="#7fb58a"/><circle cx="490" cy="454.8" r="1.1" fill="#2f86e0"/></svg>
</div></div>
<div class="pshadow" style="left:820px;top:287.5px;width:321.8px;height:332.5px;box-shadow:0 2px 4px rgba(0,0,0,.05),0 3px 13px rgba(0,0,0,.07),0 0 2px rgba(0,0,0,.04)"></div>
<div class="panel" style="left:820px;top:287.5px;width:321.8px;height:332.5px;background:#fcfcfc"><div class="abs" style="left:-820px;top:-287.5px;width:1360px;height:768px">
<div class="t" style="left:850.8px;top:312.3px;font-size:11.6px;color:#1c1c1c;font-weight:700;transform:scaleX(0.821);">Global Brand Reach</div>
<div class="abs" style="left:849.0px;top:331.2px;width:64.5px;height:9.0px;background:#f9fafb;border-radius:1.5px;"></div>
<div class="t" style="left:852.0px;top:334.4px;font-size:3.8px;color:#7a7a7a;font-weight:700;transform:scaleX(0.875);">Tild Aaoatt</div>
<div class="t" style="left:878.0px;top:334.5px;font-size:4px;color:#aaa;font-weight:700;transform:scaleX(0.865);">A</div>
<div class="t" style="left:890.0px;top:334.5px;font-size:4px;color:#b0b0b0;font-weight:700;transform:scaleX(0.856);">Jb Clwwwt</div>
<div class="abs" style="left:1043.3px;top:313.1px;width:51.7px;height:16.1px;background:#fff;border-radius:2px;border:1px solid #c9c8dc;"></div>
<div class="t" style="left:1051.0px;top:318.5px;font-size:6.2px;color:#2a2a3a;font-weight:700;transform:scaleX(0.904);">Pibwwntncwt</div>
<div class="abs" style="left:1102.0px;top:313.1px;width:16.8px;height:16.1px;background:#fff;border-radius:2px;border:1px solid #dcdce8;"></div>
<div class="abs" style="left:1108.6px;top:318.2px;width:4.0px;height:5.8px;background:#222;border-radius:0.8px;"></div>
<svg style="left:849.2px;top:349.6px" width="268.6" height="128.8" viewBox="849.2 349.6 268.6 128.8"><defs><clipPath id="mpc"><rect x="849.2" y="349.6" width="268.6" height="128.8" rx="3"/></clipPath><filter id="mpb"><feGaussianBlur stdDeviation="1"/></filter><filter id="mpb3" x="-2%" y="-2%" width="104%" height="104%"><feGaussianBlur stdDeviation="0.55"/></filter><filter id="mpb2" x="-10%" y="-100%" width="120%" height="300%"><feGaussianBlur stdDeviation="0.35"/></filter></defs><g clip-path="url(#mpc)"><rect x="849.2" y="349.6" width="268.6" height="128.8" fill="#edf0f9"/><g filter="url(#mpb3)"><rect x="924" y="349.6" width="108" height="128.8" fill="#e7eaf5"/><rect x="958" y="349.6" width="88" height="66" fill="#f2f4fa" opacity=".8"/><rect x="932.8" y="349.6" width="1.7" height="128.8" fill="#fff" opacity=".8"/><rect x="941.5" y="349.6" width="1.7" height="128.8" fill="#fff" opacity=".8"/><rect x="950.2" y="349.6" width="1.7" height="128.8" fill="#fff" opacity=".8"/><rect x="958.9" y="349.6" width="1.7" height="128.8" fill="#fff" opacity=".8"/><rect x="967.6" y="349.6" width="1.7" height="128.8" fill="#fff" opacity=".8"/><rect x="976.3" y="349.6" width="1.7" height="128.8" fill="#fff" opacity=".8"/><rect x="985.0" y="349.6" width="1.7" height="128.8" fill="#fff" opacity=".8"/><rect x="993.7" y="349.6" width="1.7" height="128.8" fill="#fff" opacity=".8"/><rect x="1002.4" y="349.6" width="1.7" height="128.8" fill="#fff" opacity=".8"/><rect x="1011.1" y="349.6" width="1.7" height="128.8" fill="#fff" opacity=".8"/><rect x="1019.8" y="349.6" width="1.7" height="128.8" fill="#fff" opacity=".8"/><rect x="1028.5" y="349.6" width="1.7" height="128.8" fill="#fff" opacity=".8"/><rect x="924" y="353.6" width="108" height="1.5" fill="#fff" opacity=".75"/><rect x="924" y="361.3" width="108" height="1.5" fill="#fff" opacity=".75"/><rect x="924" y="369.0" width="108" height="1.5" fill="#fff" opacity=".75"/><rect x="924" y="376.7" width="108" height="1.5" fill="#fff" opacity=".75"/><rect x="924" y="384.4" width="108" height="1.5" fill="#fff" opacity=".75"/><rect x="924" y="392.1" width="108" height="1.5" fill="#fff" opacity=".75"/><rect x="924" y="399.8" width="108" height="1.5" fill="#fff" opacity=".75"/><rect x="924" y="407.5" width="108" height="1.5" fill="#fff" opacity=".75"/><rect x="924" y="415.2" width="108" height="1.5" fill="#fff" opacity=".75"/><rect x="924" y="422.9" width="108" height="1.5" fill="#fff" opacity=".75"/><rect x="924" y="430.6" width="108" height="1.5" fill="#fff" opacity=".75"/><rect x="924" y="438.3" width="108" height="1.5" fill="#fff" opacity=".75"/><rect x="924" y="446.0" width="108" height="1.5" fill="#fff" opacity=".75"/><rect x="924" y="453.7" width="108" height="1.5" fill="#fff" opacity=".75"/><rect x="924" y="461.4" width="108" height="1.5" fill="#fff" opacity=".75"/><rect x="924" y="469.1" width="108" height="1.5" fill="#fff" opacity=".75"/><rect x="924" y="476.8" width="108" height="1.5" fill="#fff" opacity=".75"/><rect x="859" y="349.6" width="1" height="128.8" fill="#fff" opacity=".5"/><rect x="879" y="349.6" width="1" height="128.8" fill="#fff" opacity=".5"/><rect x="897" y="349.6" width="1" height="128.8" fill="#fff" opacity=".5"/><rect x="913.3" y="349.6" width="1" height="128.8" fill="#fff" opacity=".5"/><rect x="849.2" y="358" width="76" height="1" fill="#fff" opacity=".4"/><rect x="849.2" y="398" width="76" height="1" fill="#fff" opacity=".4"/><rect x="849.2" y="420" width="76" height="1" fill="#fff" opacity=".4"/><rect x="849.2" y="433" width="76" height="1" fill="#fff" opacity=".4"/><rect x="849.2" y="462" width="76" height="1" fill="#fff" opacity=".4"/><rect x="1060" y="349.6" width="1" height="128.8" fill="#fff" opacity=".5"/><rect x="1085" y="349.6" width="1" height="128.8" fill="#fff" opacity=".5"/><rect x="1103" y="349.6" width="1" height="128.8" fill="#fff" opacity=".5"/><rect x="1031" y="366" width="88" height="1" fill="#fff" opacity=".4"/><rect x="1031" y="386" width="88" height="1" fill="#fff" opacity=".4"/><rect x="1031" y="426" width="88" height="1" fill="#fff" opacity=".4"/><rect x="1031" y="462" width="88" height="1" fill="#fff" opacity=".4"/><rect x="923.2" y="349.6" width="2.4" height="128.8" fill="#fff" opacity=".85"/><rect x="951.5" y="349.6" width="2.6" height="128.8" fill="#fff" opacity=".85"/><rect x="1044" y="349.6" width="1.4" height="128.8" fill="#fff" opacity=".85"/><rect x="924" y="414.6" width="194.0" height="2.2" fill="#fff" opacity=".8"/><rect x="1031" y="408.6" width="87.0" height="1.4" fill="#fff" opacity=".8"/><rect x="849.2" y="443.6" width="268.8" height="2.8" fill="#fff" opacity=".8"/><rect x="849.2" y="447.6" width="150.8" height="1.4" fill="#fff" opacity=".8"/><path d="M1045 352 L1052 372 L1058 392 L1060 415" stroke="#fff" stroke-width="1.4" fill="none"/><path d="M1071 366 L1082 390 L1088 415 L1092 478" stroke="#fff" stroke-width="1.2" fill="none" opacity=".8"/><path d="M958 446 L964 462 L972 478" stroke="#fff" stroke-width="1.6" fill="none"/><path d="M930 470 Q938 476 946 468" stroke="#fff" stroke-width="1.4" fill="none"/><path d="M1098 402 L1110 396 L1118 398" stroke="#dfe2ea" stroke-width=".8" fill="none"/><path d="M849 383.5 L905 383 L913 381.5" stroke="#c9ccd4" stroke-width=".8" fill="none"/><path d="M849 372 L875 370 L888 367 L924 368" stroke="#d6d8df" stroke-width=".7" fill="none"/><path d="M877 386 L876 400" stroke="#d0d3da" stroke-width=".6" fill="none"/><path d="M1044 421 L1043 444 L1038 446" stroke="#cfd2d8" stroke-width=".7" fill="none"/><path d="M1081 431.5 L1116 432.5" stroke="#d4d6dc" stroke-width=".7" fill="none"/><rect x="948.3" y="351" width="1.6" height="25" fill="#555a66" opacity=".75"/><rect x="1029.6" y="422" width="2" height="38" fill="#8a8d96" opacity=".6"/><rect x="953.5" y="466" width="2.2" height="12" fill="#7a7d86" opacity=".6"/><rect x="925.3" y="356.3" width="14.4" height="8.3" fill="#4a5aa8"/><rect x="927" y="359" width="11" height="2.4" fill="#dfe4fa" opacity=".9"/><rect x="926" y="368" width="11" height="2.4" fill="#c9cdf0" opacity=".8"/><rect x="969.5" y="370.5" width="15.5" height="4" fill="#cfc9f3" opacity=".9"/><rect x="970.6" y="381.6" width="15.4" height="4.2" fill="#6a8ad8" opacity=".85"/><rect x="961.3" y="375.2" width="6.2" height="4" fill="#9fd0a8" opacity=".9"/><rect x="968" y="377" width="12" height="2" fill="#a8b6e8" opacity=".7"/><rect x="938" y="391" width="3.4" height="4" fill="#bcd6f0"/><rect x="938.5" y="376" width="3.4" height="4" fill="#d9d9cf"/><rect x="919" y="420" width="2.6" height="4" fill="#5a8ad8"/><rect x="930" y="422" width="3.4" height="3.4" fill="#5a8ad8" opacity=".8"/><rect x="946" y="409" width="2" height="3" fill="#8fb0e8"/><rect x="878" y="441.5" width="3.4" height="2.6" fill="#b9dcc0"/><rect x="888" y="441.5" width="5" height="2.6" fill="#b9dcc0"/><rect x="898.5" y="441" width="2.6" height="3" fill="#8fae8f"/><rect x="911" y="446" width="2" height="2" fill="#7fbf8a"/><rect x="865" y="442" width="2" height="2" fill="#cfd6cf"/><rect x="1028" y="408" width="3.6" height="4" fill="#e9e3d0"/><rect x="985" y="360" width="38" height="1.4" fill="#b3b6c0" opacity="0.35" filter="url(#mpb2)"/><rect x="1010" y="357" width="22" height="1.2" fill="#a7aab3" opacity="0.30" filter="url(#mpb2)"/><rect x="1042" y="359" width="14" height="1.3" fill="#a0a3ab" opacity="0.30" filter="url(#mpb2)"/><rect x="1009" y="370" width="17" height="1.6" fill="#4d505a" opacity="0.40" filter="url(#mpb2)"/><rect x="995" y="389" width="9" height="1.6" fill="#5a5d66" opacity="0.35" filter="url(#mpb2)"/><rect x="1006" y="389" width="9" height="1.6" fill="#5a5d66" opacity="0.35" filter="url(#mpb2)"/><rect x="1017" y="388.6" width="14" height="1.6" fill="#777a83" opacity="0.35" filter="url(#mpb2)"/><rect x="1036" y="387.2" width="38" height="1.6" fill="#4d505a" opacity="0.38" filter="url(#mpb2)"/><rect x="1066" y="381.5" width="12" height="1.8" fill="#6a6d76" opacity="0.35" filter="url(#mpb2)"/><rect x="998" y="398.8" width="22" height="1.3" fill="#b0b3bc" opacity="0.35" filter="url(#mpb2)"/><rect x="1025" y="399.2" width="12" height="1.6" fill="#5a5d66" opacity="0.38" filter="url(#mpb2)"/><rect x="1047" y="411.5" width="11" height="1.8" fill="#6a6d76" opacity="0.35" filter="url(#mpb2)"/><rect x="960" y="415.5" width="30" height="1.3" fill="#a7aab3" opacity="0.30" filter="url(#mpb2)"/><rect x="978" y="415.2" width="14" height="1.4" fill="#8a7a6a" opacity="0.30" filter="url(#mpb2)"/><rect x="873" y="429.6" width="15" height="1.5" fill="#4d505a" opacity="0.40" filter="url(#mpb2)"/><rect x="961.5" y="437" width="5" height="2.6" fill="#8a8d96" opacity="0.30" filter="url(#mpb2)"/><rect x="969" y="438" width="36" height="1.5" fill="#8a8d96" opacity="0.35" filter="url(#mpb2)"/><rect x="1006" y="438.4" width="10" height="1.2" fill="#b0b3bc" opacity="0.30" filter="url(#mpb2)"/><rect x="1066" y="444.6" width="13" height="1.3" fill="#8a8d96" opacity="0.35" filter="url(#mpb2)"/><rect x="884" y="454.5" width="42" height="1.3" fill="#a7aab3" opacity="0.30" filter="url(#mpb2)"/><rect x="882" y="449.5" width="5" height="2" fill="#a7aab3" opacity="0.25" filter="url(#mpb2)"/><rect x="853" y="473.4" width="30" height="1.2" fill="#b0b3bc" opacity="0.30" filter="url(#mpb2)"/><rect x="885" y="473.4" width="40" height="1.2" fill="#b0b3bc" opacity="0.30" filter="url(#mpb2)"/><rect x="1100" y="456.6" width="15" height="1.2" fill="#c2c5cc" opacity="0.35" filter="url(#mpb2)"/><rect x="975" y="414.8" width="16" height="1.6" fill="#8a8378" opacity="0.25" filter="url(#mpb2)"/></g><ellipse cx="881.9" cy="423.5" rx="6.5" ry="1.6" fill="#000" opacity=".13" filter="url(#mpb)"/><path d="M874.49 416.01 A7.20 7.20 0 1 1 886.31 416.01 L880.40 424.50 Z" fill="#2f9bf0"/><circle cx="880.40" cy="411.60" r="2.59" fill="#fff"/><ellipse cx="914.7" cy="397.2" rx="5.0" ry="1.6" fill="#000" opacity=".13" filter="url(#mpb)"/><path d="M908.61 391.22 A5.50 5.50 0 1 1 917.79 391.22 L913.20 398.20 Z" fill="#f0463a"/><circle cx="913.20" cy="387.90" r="1.70" fill="#fff"/><ellipse cx="986.2" cy="414.2" rx="6.7" ry="1.6" fill="#000" opacity=".13" filter="url(#mpb)"/><path d="M978.90 407.90 A7.40 7.40 0 1 1 990.50 407.90 L984.70 415.20 Z" fill="#2f9bf0"/><circle cx="984.70" cy="403.00" r="2.66" fill="#fff"/><ellipse cx="1060.8" cy="412.8" rx="7.2" ry="1.6" fill="#000" opacity=".13" filter="url(#mpb)"/><path d="M1053.06 406.00 A8.00 8.00 0 1 1 1065.54 406.00 L1059.30 413.80 Z" fill="#2f9bf0"/><circle cx="1059.30" cy="400.70" r="2.88" fill="#fff"/><ellipse cx="1076.7" cy="366.0" rx="4.7" ry="1.6" fill="#000" opacity=".13" filter="url(#mpb)"/><path d="M1072.00 364.50 A5.20 5.20 0 1 1 1078.40 364.50 L1075.20 367.00 Z" fill="#35b25a"/><circle cx="1075.20" cy="360.10" r="2.40" fill="#2a9a4a"/><path d="M1073.3 360.2 L1074.8 361.8 L1077.3 358.6" stroke="#0f7a35" stroke-width="1" fill="none"/><path d="M1076 367 L1078 371" stroke="#e8a090" stroke-width=".6"/></g></svg>
<div class="abs" style="left:849.3px;top:478.4px;width:268.3px;height:34.1px;background:#fdfdfd;border-left:1px solid #f4f4f4;border-right:1px solid #f4f4f4;"></div>
<div class="t" style="left:855.5px;top:491.7px;font-size:9.6px;color:#1c1c1c;font-weight:700;transform:scaleX(0.894);">Tiag Mertims</div>
<div class="abs" style="left:1008.0px;top:491.0px;width:34.0px;height:10.3px;background:#fdfdfd;border-radius:1.5px;box-shadow:0 0 2px rgba(0,0,0,.06);"></div>
<div class="abs" style="left:1012.8px;top:494.6px;width:2.8px;height:3.0px;background:#444;border-radius:0.5px;"></div>
<div class="abs" style="left:1022.8px;top:494.8px;width:2.6px;height:2.8px;background:#2f9bf0;border-radius:0.5px;"></div>
<div class="t" style="left:1030.5px;top:495.0px;font-size:3.8px;color:#aaa;font-weight:700;transform:scaleX(1.076);">lr ul</div>
<div class="abs" style="left:1049.8px;top:489.8px;width:23.2px;height:12.4px;background:#fff;border-radius:1.5px;border:1px solid #e6e6e6;"></div>
<div class="t" style="left:1053.0px;top:495.1px;font-size:4.6px;color:#555;font-weight:700;transform:scaleX(0.978);">Tqaa</div>
<div class="abs" style="left:1078.2px;top:489.8px;width:27.0px;height:12.4px;background:#fff;border-radius:1.5px;border:1px solid #e9e9e9;"></div>
<div class="t" style="left:1082.0px;top:494.8px;font-size:3.8px;color:#d0d0d0;font-weight:700;transform:scaleX(0.967);">Oawd</div>
<div class="abs" style="left:849.4px;top:512.5px;width:268.2px;height:95.1px;background:#fff;border-radius:3px;border:1px solid #ececec;"></div>
<div class="t" style="left:857.0px;top:519.0px;font-size:4.8px;color:#2a2a2a;font-weight:700;transform:scaleX(1.059);">Mwtpwwn</div>
<div class="t" style="left:896.0px;top:519.0px;font-size:4.8px;color:#2a2a2a;font-weight:700;transform:scaleX(1.114);">Rwtbwn</div>
<div class="t" style="left:939.0px;top:519.0px;font-size:4.8px;color:#2a2a2a;font-weight:700;transform:scaleX(1.164);">Dta</div>
<div class="t" style="left:988.0px;top:519.0px;font-size:4.8px;color:#2a2a2a;font-weight:700;transform:scaleX(1.033);">Dwa</div>
<div class="t" style="left:1038.0px;top:519.0px;font-size:4.8px;color:#2a2a2a;font-weight:700;transform:scaleX(0.978);">Awqwwn</div>
<div class="t" style="left:1079.0px;top:519.0px;font-size:4.8px;color:#2a2a2a;font-weight:700;transform:scaleX(0.916);">Pwwl</div>
<div class="abs" style="left:850.4px;top:528.2px;width:263.6px;height:0.9px;background:#f0f0f0;"></div>
<div class="abs" style="left:850.4px;top:544.5px;width:263.6px;height:0.9px;background:#f0f0f0;"></div>
<div class="abs" style="left:850.4px;top:559.1px;width:263.6px;height:0.9px;background:#f0f0f0;"></div>
<div class="abs" style="left:850.4px;top:574.5px;width:263.6px;height:0.9px;background:#f0f0f0;"></div>
<div class="abs" style="left:850.4px;top:590.1px;width:263.6px;height:0.9px;background:#f0f0f0;"></div>
<div class="t" style="left:860.0px;top:535.4px;font-size:4.4px;color:#9a9a9a;transform:scaleX(1.122);">Tlar</div>
<div class="t" style="left:906.3px;top:535.2px;font-size:4.8px;color:#555;font-style:italic;transform:scaleX(1.037);">ABVT</div>
<div class="t" style="left:939.0px;top:535.2px;font-size:4.8px;color:#444;font-weight:700;font-style:italic;transform:scaleX(1.047);">Awwwtb</div>
<div class="t" style="left:995.3px;top:535.2px;font-size:4.8px;color:#555;font-weight:700;font-style:italic;transform:scaleX(1.141);">Iwwdwa</div>
<div class="abs" style="left:1052.2px;top:535.4px;width:0.7px;height:3.2px;background:#ccc;"></div>
<div class="t" style="left:1085.3px;top:535.2px;font-size:4.8px;color:#555;font-weight:700;transform:scaleX(0.962);">Gwd</div>
<div class="t" style="left:860.0px;top:550.4px;font-size:4.4px;color:#9a9a9a;transform:scaleX(1.122);">Tlar</div>
<div class="t" style="left:906.3px;top:550.2px;font-size:4.8px;color:#555;font-style:italic;transform:scaleX(1.037);">ABVT</div>
<div class="t" style="left:939.0px;top:550.2px;font-size:4.8px;color:#444;font-weight:700;font-style:italic;transform:scaleX(1.047);">Awwwtb</div>
<div class="t" style="left:995.3px;top:550.2px;font-size:4.8px;color:#555;font-weight:700;font-style:italic;transform:scaleX(1.141);">Iwwdwa</div>
<div class="abs" style="left:1052.2px;top:550.4px;width:0.7px;height:3.2px;background:#ccc;"></div>
<div class="t" style="left:1085.3px;top:550.2px;font-size:4.8px;color:#555;font-weight:700;transform:scaleX(0.962);">Gwd</div>
<div class="t" style="left:860.0px;top:565.9px;font-size:4.4px;color:#9a9a9a;transform:scaleX(1.122);">Tlar</div>
<div class="t" style="left:906.3px;top:565.7px;font-size:4.8px;color:#555;font-style:italic;transform:scaleX(1.037);">ABVT</div>
<div class="t" style="left:939.0px;top:565.7px;font-size:4.8px;color:#444;font-weight:700;font-style:italic;transform:scaleX(1.047);">Awwwtb</div>
<div class="t" style="left:995.3px;top:565.7px;font-size:4.8px;color:#555;font-weight:700;font-style:italic;transform:scaleX(1.141);">Iwwdwa</div>
<div class="abs" style="left:1052.2px;top:565.9px;width:0.7px;height:3.2px;background:#ccc;"></div>
<div class="t" style="left:1085.3px;top:565.7px;font-size:4.8px;color:#555;font-weight:700;transform:scaleX(0.962);">Gwd</div>
<div class="t" style="left:860.0px;top:581.0px;font-size:4.4px;color:#9a9a9a;transform:scaleX(1.122);">Tlar</div>
<div class="t" style="left:906.3px;top:580.8px;font-size:4.8px;color:#555;font-style:italic;transform:scaleX(1.037);">ABVT</div>
<div class="t" style="left:939.0px;top:580.8px;font-size:4.8px;color:#444;font-weight:700;font-style:italic;transform:scaleX(1.047);">Awwwtb</div>
<div class="t" style="left:995.3px;top:580.8px;font-size:4.8px;color:#555;font-weight:700;font-style:italic;transform:scaleX(1.141);">Iwwdwa</div>
<div class="abs" style="left:1052.2px;top:581.0px;width:0.7px;height:3.2px;background:#ccc;"></div>
<div class="t" style="left:1085.3px;top:580.8px;font-size:4.8px;color:#555;font-weight:700;transform:scaleX(0.962);">Gwd</div>
<div class="t" style="left:860.0px;top:596.7px;font-size:4.4px;color:#9a9a9a;transform:scaleX(1.122);">Tlar</div>
<div class="t" style="left:906.3px;top:596.5px;font-size:4.8px;color:#555;font-style:italic;transform:scaleX(1.037);">ABVT</div>
<div class="t" style="left:939.0px;top:596.5px;font-size:4.8px;color:#444;font-weight:700;font-style:italic;transform:scaleX(1.047);">Awwwtb</div>
<div class="t" style="left:995.3px;top:596.5px;font-size:4.8px;color:#555;font-weight:700;font-style:italic;transform:scaleX(1.141);">Iwwdwa</div>
<div class="abs" style="left:1052.2px;top:596.7px;width:0.7px;height:3.2px;background:#ccc;"></div>
<div class="t" style="left:1085.3px;top:596.5px;font-size:4.8px;color:#555;font-weight:700;transform:scaleX(0.962);">Gwd</div>
</div></div>
<div class="abs" style="left:1025.5px;top:248.0px;width:81.3px;height:49.0px;background:#fff;border-radius:2px;box-shadow:0 2px 6px rgba(0,0,0,.13),0 0 1px rgba(0,0,0,.12);"></div>
<div class="t" style="left:1031.0px;top:251.8px;font-size:3.4px;color:#cfcfcf;font-weight:700;transform:scaleX(0.594);">wwdwd wdwdwd wdwadwdwdawd awdwdawdwd</div>
<div class="t" style="left:1091.0px;top:251.8px;font-size:3.4px;color:#bdbdbd;font-weight:700;transform:scaleX(0.815);">Nwdw</div>
<div class="t" style="left:1029.0px;top:258.0px;font-size:3.8px;color:#222;font-weight:700;transform:scaleX(0.602);">wwdwdawddawdwdawd wdawdwad dwadw</div>
<div class="abs" style="left:1029.0px;top:260.6px;width:58.0px;height:0.5px;background:#d0d0d0;"></div>
<div class="t" style="left:1038.0px;top:264.6px;font-size:3.4px;color:#9a9a9a;font-weight:700;transform:scaleX(0.582);">wdwdawddawdwd wdawdwad dwadw dawdwd dwadwd</div>
<div class="abs" style="left:1033.0px;top:268.7px;width:2.4px;height:1.8px;background:#4a6ad8;border-radius:0.4px;"></div>
<div class="t" style="left:1038.5px;top:268.6px;font-size:3.4px;color:#555;font-weight:700;transform:scaleX(0.587);">wdwdawddawdwd wdawdwad dwadw da</div>
<div class="abs" style="left:1033.0px;top:274.4px;width:2.4px;height:1.8px;background:#4a6ad8;border-radius:0.4px;"></div>
<div class="t" style="left:1038.5px;top:274.3px;font-size:3.4px;color:#888;font-weight:700;transform:scaleX(0.567);">wdwdawddawdwd wdaw</div>
<div class="abs" style="left:1033.0px;top:280.1px;width:2.4px;height:1.8px;background:#4a6ad8;border-radius:0.4px;"></div>
<div class="t" style="left:1038.5px;top:280.0px;font-size:3.4px;color:#888;font-weight:700;transform:scaleX(0.573);">wdwdawddawdwd wdawdwa</div>
<div class="abs" style="left:1033.0px;top:286.1px;width:2.4px;height:1.8px;background:#4a6ad8;border-radius:0.4px;"></div>
<div class="t" style="left:1038.5px;top:286.0px;font-size:3.4px;color:#aaa;font-weight:700;transform:scaleX(0.677);">wdwdawddawdwd wdawdwad dwadw dawdwd dwadwd</div>
<div class="abs" style="left:1040.0px;top:288.1px;width:60.0px;height:0.6px;background:#bdbdbd;"></div>
<div class="t" style="left:1094.0px;top:292.1px;font-size:3.2px;color:#bbb;font-weight:700;transform:scaleX(1.190);">wrl</div>
<div class="pshadow" style="left:544.6px;top:258.7px;width:285.8px;height:388.5px;box-shadow:0 2px 5px rgba(0,0,0,.06),0 4px 18px rgba(0,0,0,.10),0 0 12px rgba(0,0,0,.05);border-radius:10.5px"></div>
<div class="panel" style="left:544.6px;top:258.7px;width:285.8px;height:388.5px;border-radius:10.5px"><div class="abs" style="left:-544.6px;top:-258.7px;width:1360px;height:768px">
<svg style="left:567px;top:283px" width="9" height="9" viewBox="0 0 9 9"><path d="M1 1.6 Q1 .6 2 .6 L7.4 .2 Q8.6 .2 8.4 1.4 L7.8 6 Q7.6 7 6.6 7 L3 7.2 L.6 8.8 Z" fill="#27307a"/><rect x="3" y="2.4" width="3.2" height="2.6" fill="#8f9de0" opacity=".7"/></svg>
<div class="t" style="left:565.8px;top:308.5px;font-size:11.6px;color:#1c1c1c;font-weight:700;transform:scaleX(0.865);">Sentiment Analysis</div>
<div class="abs" style="left:738.8px;top:317.6px;width:4.4px;height:0.8px;background:#d6d6d6;"></div>
<div class="abs" style="left:738.8px;top:319.4px;width:3.0px;height:0.8px;background:#dcdcdc;"></div>
<div class="abs" style="left:750.0px;top:317.6px;width:4.4px;height:0.8px;background:#d6d6d6;"></div>
<div class="abs" style="left:750.0px;top:319.4px;width:3.0px;height:0.8px;background:#dcdcdc;"></div>
<div class="abs" style="left:762.0px;top:316.8px;width:4.6px;height:4.0px;border-radius:0.8px;border:.8px solid #d3d3d3;"></div>
<div class="abs" style="left:773.0px;top:316.8px;width:4.6px;height:4.0px;border-radius:0.8px;border:.8px solid #d3d3d3;"></div>
<div class="abs" style="left:785.0px;top:316.8px;width:4.6px;height:4.0px;border-radius:0.8px;border:.8px solid #d3d3d3;"></div>
<div class="abs" style="left:796.5px;top:317.0px;width:5.6px;height:3.6px;border-radius:0.6px;border:.8px solid #cfcfcf;"></div>
<div class="abs" style="left:795.5px;top:320.8px;width:7.4px;height:0.7px;background:#d6d6d6;"></div>
<div class="abs" style="left:565.8px;top:327.5px;width:49.7px;height:11.2px;background:#f7f8fa;border-radius:2px;"></div>
<div class="t" style="left:570.5px;top:331.8px;font-size:4.2px;color:#777;font-weight:700;transform:scaleX(0.857);">KLNaaoa aoait</div>
<div class="t" style="left:602.0px;top:331.8px;font-size:4.4px;color:#e0504a;font-weight:700;transform:scaleX(0.929);">Naa</div>
<div class="abs" style="left:565.8px;top:351.0px;width:115.0px;height:56.6px;background:#fff;border-radius:3px;box-shadow:0 0 3px rgba(0,0,0,.09);"></div>
<div class="t" style="left:573.0px;top:360.7px;font-size:4.4px;color:#2fbf55;font-weight:700;transform:scaleX(1.022);">Nvl</div>
<div class="t" style="left:584.0px;top:360.7px;font-size:4.4px;color:#3fb36a;font-weight:700;transform:scaleX(1.119);">Tetbwy Suml</div>
<div class="t" style="left:642.0px;top:360.3px;font-size:4.4px;color:#7aa7ea;font-weight:700;transform:scaleX(0.835);">Pwvswd</div>
<div class="t" style="left:657.0px;top:360.3px;font-size:4.4px;color:#e59a9a;font-weight:700;transform:scaleX(0.977);">Pntnnm</div>
<div class="t" style="left:573.0px;top:372.4px;font-size:4.3px;color:#2fbf55;font-weight:700;transform:scaleX(1.046);">Nle</div>
<div class="t" style="left:584.3px;top:372.5px;font-size:4.1px;color:#4fbb76;font-weight:700;transform:scaleX(0.891);">Imwwm</div>
<div class="t" style="left:573.0px;top:380.7px;font-size:4.3px;color:#2fbf55;font-weight:700;transform:scaleX(1.221);">NZ</div>
<div class="t" style="left:584.3px;top:380.8px;font-size:4.1px;color:#4fbb76;font-weight:700;transform:scaleX(0.895);">Pwwe</div>
<div class="t" style="left:573.0px;top:389.6px;font-size:4.3px;color:#2fbf55;font-weight:700;transform:scaleX(1.046);">Nle</div>
<div class="t" style="left:584.3px;top:389.7px;font-size:4.1px;color:#4fbb76;font-weight:700;transform:scaleX(0.963);">Twm</div>
<div class="t" style="left:573.0px;top:397.6px;font-size:4.3px;color:#2fbf55;font-weight:700;transform:scaleX(0.916);">dne</div>
<div class="t" style="left:584.3px;top:397.7px;font-size:4.1px;color:#4fbb76;font-weight:700;transform:scaleX(0.950);">Iwwww</div>
<div class="t" style="left:624.0px;top:371.4px;font-size:4.2px;color:#444;font-weight:700;transform:scaleX(0.991);">Pmwwq</div>
<div class="t" style="left:651.5px;top:371.4px;font-size:4.2px;color:#444;font-weight:700;transform:scaleX(1.154);">Nwlwf</div>
<div class="t" style="left:624.8px;top:377.0px;font-size:8.8px;color:#262626;font-weight:700;transform:scaleX(0.988);">219</div>
<div class="t" style="left:654.0px;top:377.0px;font-size:8.8px;color:#262626;font-weight:700;transform:scaleX(1.052);">10</div>
<div class="t" style="left:625.3px;top:386.8px;font-size:8.8px;color:#262626;font-weight:700;transform:scaleX(0.953);">205</div>
<div class="t" style="left:653.0px;top:386.8px;font-size:8.8px;color:#262626;font-weight:700;transform:scaleX(0.967);">220</div>
<div class="abs" style="left:624.0px;top:399.0px;width:16.5px;height:0.8px;background:#d9d9d9;"></div>
<div class="abs" style="left:651.0px;top:399.0px;width:17.5px;height:0.8px;background:#d9d9d9;"></div>
<div class="abs" style="left:689.0px;top:351.0px;width:118.0px;height:56.6px;background:#fff;border-radius:3px;box-shadow:0 0 3px rgba(0,0,0,.09);"></div>
<svg style="left:699.4px;top:359.8px" width="5.8" height="5.2" viewBox="0 0 7 6.4"><path d="M3.5 6.2 L.4 2.8 Q-.3 1.2 1 .4 Q2.5 -.2 3.5 1.4 Q4.5 -.2 6 .4 Q7.3 1.2 6.6 2.8 Z" fill="#ee4b3f"/></svg>
<div class="t" style="left:708.5px;top:360.4px;font-size:4.4px;color:#9a9a9a;font-weight:700;transform:scaleX(0.867);">v Twivl wwwth</div>
<div class="t" style="left:742.0px;top:360.4px;font-size:4.4px;color:#9a9a9a;font-weight:700;transform:scaleX(0.936);">IrPwdlwwpwd</div>
<div class="t" style="left:776.5px;top:360.4px;font-size:4.4px;color:#9a9a9a;font-weight:700;transform:scaleX(1.023);">IPtwwdtw</div>
<div class="t" style="left:699.0px;top:372.6px;font-size:4.3px;color:#ee5a4a;font-weight:700;transform:scaleX(1.018);">Sdw</div>
<div class="t" style="left:711.5px;top:372.7px;font-size:4.1px;color:#9a9a9a;font-weight:700;transform:scaleX(0.836);">Pmwwr</div>
<div class="t" style="left:699.0px;top:381.0px;font-size:4.3px;color:#ee5a4a;font-weight:700;transform:scaleX(1.215);">Tvs</div>
<div class="t" style="left:711.5px;top:381.1px;font-size:4.1px;color:#9a9a9a;font-weight:700;transform:scaleX(0.986);">Rdwu</div>
<div class="t" style="left:699.0px;top:390.0px;font-size:4.3px;color:#ee5a4a;font-weight:700;transform:scaleX(1.108);">Nqa</div>
<div class="t" style="left:711.5px;top:390.1px;font-size:4.1px;color:#9a9a9a;font-weight:700;transform:scaleX(1.098);">Iwwp</div>
<div class="t" style="left:699.0px;top:397.8px;font-size:4.3px;color:#ee5a4a;font-weight:700;transform:scaleX(1.022);">Clwn</div>
<div class="t" style="left:711.5px;top:397.9px;font-size:4.1px;color:#9a9a9a;font-weight:700;transform:scaleX(0.998);">Iwwpd</div>
<div class="t" style="left:750.5px;top:371.2px;font-size:4.4px;color:#555;font-weight:700;transform:scaleX(0.939);">Pywwq</div>
<div class="t" style="left:777.5px;top:371.2px;font-size:4.4px;color:#555;font-weight:700;transform:scaleX(0.897);">Fwwpr</div>
<div class="t" style="left:750.8px;top:377.3px;font-size:8.8px;color:#262626;font-weight:700;transform:scaleX(0.988);">213</div>
<div class="t" style="left:780.0px;top:377.3px;font-size:8.8px;color:#262626;font-weight:700;transform:scaleX(0.971);">25</div>
<div class="t" style="left:751.5px;top:387.1px;font-size:8.8px;color:#262626;font-weight:700;transform:scaleX(0.953);">220</div>
<div class="t" style="left:779.5px;top:387.1px;font-size:8.8px;color:#262626;font-weight:700;transform:scaleX(1.073);">10</div>
<div class="abs" style="left:748.5px;top:399.1px;width:17.5px;height:0.8px;background:#d9d9d9;"></div>
<div class="abs" style="left:776.0px;top:399.1px;width:19.5px;height:0.8px;background:#d9d9d9;"></div>
<div class="abs" style="left:565.8px;top:417.7px;width:115.0px;height:119.5px;background:#fff;border-radius:3px;box-shadow:0 0 3px rgba(0,0,0,.09);"></div>
<div class="t" style="left:571.2px;top:426.2px;font-size:5.4px;color:#222;font-weight:700;transform:scaleX(1.099);">Tlstwtwlom</div>
<div class="abs" style="left:582.6px;top:445.2px;width:78.6px;height:78.6px;border-radius:50%;background:conic-gradient(from 0deg,#fff 0deg,#fff 1deg,#ffc63a 1deg,#ffc23c 96deg,#fff 96deg,#fff 97.4deg,#fc4b43 97.4deg,#fc4b43 133.5deg,#fff 133.5deg,#fff 134.8deg,#2f9ddc 134.8deg,#2a9dd4 185deg,#21a6b6 240deg,#1fb694 290deg,#20c27f 335deg,#1fc67a 360deg);-webkit-mask:radial-gradient(circle,transparent 21.2px,#000 22.0px);mask:radial-gradient(circle,transparent 21.2px,#000 22.0px)"></div>
<div class="t" style="left:608.8px;top:483.6px;font-size:4.2px;color:#333;font-weight:700;transform:scaleX(1.017);">Aatwwa Iwmet</div>
<div class="abs" style="left:689.0px;top:417.7px;width:118.0px;height:119.5px;background:#fff;border-radius:3px;box-shadow:0 0 3px rgba(0,0,0,.09);"></div>
<div class="t" style="left:693.0px;top:426.2px;font-size:5.4px;color:#222;font-weight:700;transform:scaleX(0.992);">Pnlwwer Iwngntwilwiny</div>
<div class="t" style="left:698.5px;top:446.9px;font-size:4.2px;color:#777;font-weight:700;transform:scaleX(0.869);">Ywd</div>
<div class="t" style="left:698.5px;top:463.4px;font-size:4.2px;color:#777;font-weight:700;transform:scaleX(1.109);">Hld</div>
<div class="t" style="left:698.5px;top:481.1px;font-size:4.2px;color:#777;font-weight:700;transform:scaleX(1.149);">Tfq</div>
<div class="t" style="left:698.5px;top:499.2px;font-size:4.2px;color:#777;font-weight:700;transform:scaleX(1.109);">Dlq</div>
<div class="abs" style="left:709.0px;top:464.4px;width:91.0px;height:0.8px;background:#f3f3f9;"></div>
<div class="abs" style="left:709.0px;top:482.1px;width:91.0px;height:0.8px;background:#f3f3f9;"></div>
<div class="abs" style="left:709.0px;top:500.2px;width:91.0px;height:0.8px;background:#f3f3f9;"></div>
<div class="abs" style="left:709.0px;top:516.0px;width:91.0px;height:0.8px;background:#f4f4f6;"></div>
<div class="abs" style="left:703.0px;top:514.8px;width:3.0px;height:2.0px;background:#3a4fc0;border-radius:0.6px;"></div>
<div class="abs" style="left:713.8px;top:464.8px;width:7.1px;height:51.2px;background:linear-gradient(180deg,#29a7f2 0%,#2ab3c4 45%,#2dcd7d 100%);border-radius:2.2px 2.2px 0 0;"></div>
<div class="abs" style="left:729.0px;top:493.5px;width:7.0px;height:22.5px;background:linear-gradient(180deg,#2aa9f0 0%,#2a9fe8 100%);border-radius:2.2px 2.2px 0 0;"></div>
<div class="abs" style="left:743.0px;top:485.8px;width:7.8px;height:30.2px;background:linear-gradient(180deg,#2aaed2 0%,#2cc392 50%,#2dcd7d 100%);border-radius:2.2px 2.2px 0 0;"></div>
<div class="abs" style="left:759.0px;top:481.5px;width:7.8px;height:34.5px;background:linear-gradient(180deg,#29a8ea 0%,#2bbba8 50%,#2dcd7d 100%);border-radius:2.2px 2.2px 0 0;"></div>
<div class="abs" style="left:773.9px;top:494.3px;width:7.7px;height:21.7px;background:linear-gradient(180deg,#ffc63c 0%,#ffba38 100%);border-radius:2.2px 2.2px 0 0;"></div>
<div class="abs" style="left:789.7px;top:468.3px;width:7.7px;height:47.7px;background:linear-gradient(180deg,#2cc690 0%,#2dcf7c 100%);border-radius:2.2px 2.2px 0 0;"></div>
<div class="t" style="left:713.6px;top:522.4px;font-size:5px;color:#555;font-weight:700;transform:scaleX(1.110);">uD</div>
<div class="t" style="left:728.9px;top:522.4px;font-size:5px;color:#555;font-weight:700;transform:scaleX(1.158);">INI</div>
<div class="t" style="left:743.5px;top:522.4px;font-size:5px;color:#555;font-weight:700;transform:scaleX(1.158);">U,I</div>
<div class="t" style="left:759.1px;top:522.4px;font-size:5px;color:#555;font-weight:700;transform:scaleX(1.158);">U,I</div>
<div class="t" style="left:774.9px;top:522.4px;font-size:5px;color:#555;font-weight:700;transform:scaleX(1.066);">M,I</div>
<div class="t" style="left:790.3px;top:522.4px;font-size:5px;color:#555;font-weight:700;transform:scaleX(0.951);">DsI</div>
<div class="abs" style="left:565.8px;top:546.4px;width:115.0px;height:70.2px;background:#fff;border-radius:3px;box-shadow:0 0 3px rgba(0,0,0,.09);"></div>
<div class="t" style="left:572.0px;top:554.9px;font-size:5.4px;color:#222;font-weight:700;transform:scaleX(0.842);">▼</div>
<div class="abs" style="left:579.3px;top:554.6px;width:4.0px;height:4.6px;background:#222;border-radius:0.5px;"></div>
<div class="t" style="left:585.0px;top:555.0px;font-size:5.2px;color:#333;font-weight:700;transform:scaleX(0.797);">Bualdwlpngn</div>
<svg style="left:612.5px;top:554.6px" width="5" height="5" viewBox="0 0 5 5"><circle cx="2.5" cy="2.5" r="1.8" fill="none" stroke="#b9b9e6" stroke-width=".7"/></svg>
<div class="t" style="left:572.0px;top:566.2px;font-size:3.8px;color:#8a8a8a;font-weight:700;transform:scaleX(0.797);">wwdwadws</div>
<div class="t" style="left:572.0px;top:578.2px;font-size:5.4px;color:#2f8de8;font-weight:700;transform:scaleX(0.960);">Intu</div>
<div class="t" style="left:583.0px;top:579.5px;font-size:3.6px;color:#6aa5e8;font-weight:700;transform:scaleX(0.691);">Sawd</div>
<div class="t" style="left:590.5px;top:579.5px;font-size:3.6px;color:#6aa5e8;font-weight:700;transform:scaleX(0.534);">pdwadwawwdn</div>
<div class="t" style="left:606.5px;top:579.5px;font-size:3.6px;color:#eaa06a;font-weight:700;transform:scaleX(0.593);">waw pwdwdawd</div>
<div class="t" style="left:625.5px;top:579.5px;font-size:3.6px;color:#6aa5e8;font-weight:700;transform:scaleX(0.597);">pwdwwd Pnd wadnwdwdn</div>
<div class="abs" style="left:572.0px;top:586.3px;width:100.0px;height:0.8px;background:#f0f0f0;"></div>
<div class="t" style="left:573.0px;top:592.1px;font-size:3.8px;color:#4a5a80;font-weight:700;transform:scaleX(0.712);">Awqd Wdw dwdawdndwdn</div>
<div class="abs" style="left:572.0px;top:600.9px;width:100.0px;height:0.8px;background:#f3f3f3;"></div>
<div class="t" style="left:572.0px;top:602.1px;font-size:3.6px;color:#a5a5a5;font-weight:700;transform:scaleX(0.821);">Pwdw Wwdwdw</div>
<div class="abs" style="left:689.0px;top:546.4px;width:118.0px;height:70.2px;background:#fff;border-radius:3px;box-shadow:0 0 3px rgba(0,0,0,.09);"></div>
<div class="t" style="left:695.6px;top:554.8px;font-size:5.6px;color:#222;font-weight:700;transform:scaleX(0.908);">Pliqmen Tenqqaant Dianniw</div>
<div class="t" style="left:697.0px;top:566.4px;font-size:3.6px;color:#8a8a8a;font-weight:700;transform:scaleX(0.731);">wwwdwwdw</div>
<div class="t" style="left:714.0px;top:566.4px;font-size:3.6px;color:#3b8fe8;font-weight:700;transform:scaleX(0.865);">NN</div>
<div class="t" style="left:721.0px;top:566.4px;font-size:3.6px;color:#e8504a;font-weight:700;transform:scaleX(1.154);">U</div>
<svg style="left:0;top:0" width="1360" height="768" viewBox="0 0 1360 768"><path d="M709.5 607.7 L797.4 607.7" stroke="#eee" stroke-width=".6"/><path d="M789.9 574.7 L789.9 607.2" stroke="#f2b38a" stroke-width=".6"/><path d="M730.3 590.7 L730.3 605.3" stroke="#f3cfc0" stroke-width=".5"/><path d="M772.7 587.9 L772.7 601.3" stroke="#f3cfc0" stroke-width=".5"/><path d="M739.7 587.2 L765.6 586.4" stroke="#d9c9f3" stroke-width=".7" fill="none"/><path d="M709.1 604.8 L718.5 601.8 L730.3 605.3 L746.8 596.8 L762.1 601.3 L772.7 598.5 L792.7 598.2" stroke="#ec8f7f" stroke-width=".7" fill="none" stroke-linejoin="round"/><path d="M709.1 604.8 L718.5 601.8 L730.3 605.3" stroke="#7a4a2a" stroke-width=".8" fill="none" stroke-linejoin="round"/><path d="M748.0 578.4 L756.2 579.4 L765.6 582.2 L772.7 587.9 L782.1 587.4 L793.4 586.4" stroke="#ee6f62" stroke-width=".8" fill="none" stroke-linejoin="round"/><path d="M709.5 596.1 L718.5 595.6 L730.3 590.2 L739.7 582.0 L748.0 578.4" stroke="#3aa0f2" stroke-width="1.5" fill="none" stroke-linejoin="round" stroke-linecap="round"/><path d="M730.3 590.2 L737.4 588.3 L740.9 583.6 L748.0 578.9" stroke="#8fc8f5" stroke-width=".7" fill="none" stroke-linejoin="round"/><path d="M765.6 582.7 L777.4 578.9 L784.5 575.6 L790.4 574.2" stroke="#3aa0f2" stroke-width="1.3" fill="none" stroke-linejoin="round" stroke-linecap="round"/><circle cx="790.4" cy="574.2" r="1.1" fill="#5a9a4a"/><circle cx="765.6" cy="582.7" r="1.4" fill="#2a2fbf"/><circle cx="746.8" cy="597.0" r="1.2" fill="#2a4a3a"/><circle cx="748.0" cy="578.4" r="1" fill="#2f9aa0"/><circle cx="718.5" cy="601.8" r="1.1" fill="#7a4a2a"/><circle cx="730.3" cy="605.3" r="1.1" fill="#6a4a3a"/><circle cx="772.7" cy="598.5" r="0.8" fill="#d86a5a"/></svg>
<div class="abs" style="left:699.4px;top:595.7px;width:6.6px;height:3.2px;background:#7fb5e8;border-radius:0.5px;"></div>
<div class="abs" style="left:699.7px;top:606.1px;width:6.0px;height:2.2px;background:#999;border-radius:0.5px;"></div>
<div class="t" style="left:710.3px;top:611.0px;font-size:3.2px;color:#e2e2e2;font-weight:700;transform:scaleX(0.940);">Wwdw Awdw Pdww Adww Dwaw Awdw Wdww Adww Wdw</div>
</div></div>
</div>
</body>
</html>
